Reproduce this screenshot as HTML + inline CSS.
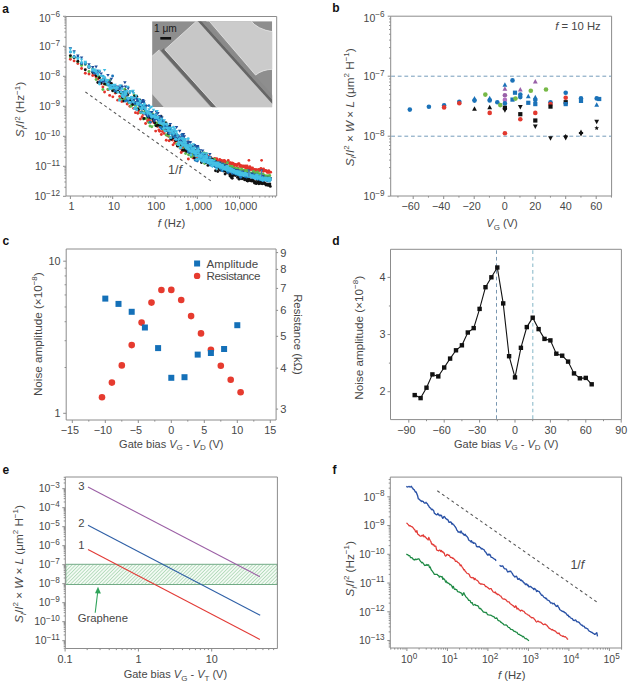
<!DOCTYPE html>
<html><head><meta charset="utf-8"><style>
html,body{margin:0;padding:0;background:#fff;overflow:hidden;}
svg{display:block;font-family:"Liberation Sans",sans-serif;}
</style></head><body>
<svg width="631" height="685" viewBox="0 0 631 685">
<rect width="631" height="685" fill="#fff"/>
<path d="M66,16.5 L66,196 L276.7,196" fill="none" stroke="#8c8c8c" stroke-width="1"/>
<line x1="66" y1="16.5" x2="276.7" y2="16.5" stroke="#8c8c8c" stroke-width="1" />
<line x1="276.7" y1="16.5" x2="276.7" y2="196" stroke="#8c8c8c" stroke-width="1" />
<line x1="66" y1="196.3" x2="63" y2="196.3" stroke="#8c8c8c" stroke-width="1" />
<line x1="66" y1="187.27" x2="64.4" y2="187.27" stroke="#8c8c8c" stroke-width="1" />
<line x1="66" y1="181.99" x2="64.4" y2="181.99" stroke="#8c8c8c" stroke-width="1" />
<line x1="66" y1="178.24" x2="64.4" y2="178.24" stroke="#8c8c8c" stroke-width="1" />
<line x1="66" y1="175.33" x2="64.4" y2="175.33" stroke="#8c8c8c" stroke-width="1" />
<line x1="66" y1="172.96" x2="64.4" y2="172.96" stroke="#8c8c8c" stroke-width="1" />
<line x1="66" y1="170.95" x2="64.4" y2="170.95" stroke="#8c8c8c" stroke-width="1" />
<line x1="66" y1="169.21" x2="64.4" y2="169.21" stroke="#8c8c8c" stroke-width="1" />
<line x1="66" y1="167.67" x2="64.4" y2="167.67" stroke="#8c8c8c" stroke-width="1" />
<line x1="66" y1="166.3" x2="63" y2="166.3" stroke="#8c8c8c" stroke-width="1" />
<line x1="66" y1="157.27" x2="64.4" y2="157.27" stroke="#8c8c8c" stroke-width="1" />
<line x1="66" y1="151.99" x2="64.4" y2="151.99" stroke="#8c8c8c" stroke-width="1" />
<line x1="66" y1="148.24" x2="64.4" y2="148.24" stroke="#8c8c8c" stroke-width="1" />
<line x1="66" y1="145.33" x2="64.4" y2="145.33" stroke="#8c8c8c" stroke-width="1" />
<line x1="66" y1="142.96" x2="64.4" y2="142.96" stroke="#8c8c8c" stroke-width="1" />
<line x1="66" y1="140.95" x2="64.4" y2="140.95" stroke="#8c8c8c" stroke-width="1" />
<line x1="66" y1="139.21" x2="64.4" y2="139.21" stroke="#8c8c8c" stroke-width="1" />
<line x1="66" y1="137.67" x2="64.4" y2="137.67" stroke="#8c8c8c" stroke-width="1" />
<line x1="66" y1="136.3" x2="63" y2="136.3" stroke="#8c8c8c" stroke-width="1" />
<line x1="66" y1="127.27" x2="64.4" y2="127.27" stroke="#8c8c8c" stroke-width="1" />
<line x1="66" y1="121.99" x2="64.4" y2="121.99" stroke="#8c8c8c" stroke-width="1" />
<line x1="66" y1="118.24" x2="64.4" y2="118.24" stroke="#8c8c8c" stroke-width="1" />
<line x1="66" y1="115.33" x2="64.4" y2="115.33" stroke="#8c8c8c" stroke-width="1" />
<line x1="66" y1="112.96" x2="64.4" y2="112.96" stroke="#8c8c8c" stroke-width="1" />
<line x1="66" y1="110.95" x2="64.4" y2="110.95" stroke="#8c8c8c" stroke-width="1" />
<line x1="66" y1="109.21" x2="64.4" y2="109.21" stroke="#8c8c8c" stroke-width="1" />
<line x1="66" y1="107.67" x2="64.4" y2="107.67" stroke="#8c8c8c" stroke-width="1" />
<line x1="66" y1="106.3" x2="63" y2="106.3" stroke="#8c8c8c" stroke-width="1" />
<line x1="66" y1="97.27" x2="64.4" y2="97.27" stroke="#8c8c8c" stroke-width="1" />
<line x1="66" y1="91.99" x2="64.4" y2="91.99" stroke="#8c8c8c" stroke-width="1" />
<line x1="66" y1="88.24" x2="64.4" y2="88.24" stroke="#8c8c8c" stroke-width="1" />
<line x1="66" y1="85.33" x2="64.4" y2="85.33" stroke="#8c8c8c" stroke-width="1" />
<line x1="66" y1="82.96" x2="64.4" y2="82.96" stroke="#8c8c8c" stroke-width="1" />
<line x1="66" y1="80.95" x2="64.4" y2="80.95" stroke="#8c8c8c" stroke-width="1" />
<line x1="66" y1="79.21" x2="64.4" y2="79.21" stroke="#8c8c8c" stroke-width="1" />
<line x1="66" y1="77.67" x2="64.4" y2="77.67" stroke="#8c8c8c" stroke-width="1" />
<line x1="66" y1="76.3" x2="63" y2="76.3" stroke="#8c8c8c" stroke-width="1" />
<line x1="66" y1="67.27" x2="64.4" y2="67.27" stroke="#8c8c8c" stroke-width="1" />
<line x1="66" y1="61.99" x2="64.4" y2="61.99" stroke="#8c8c8c" stroke-width="1" />
<line x1="66" y1="58.24" x2="64.4" y2="58.24" stroke="#8c8c8c" stroke-width="1" />
<line x1="66" y1="55.33" x2="64.4" y2="55.33" stroke="#8c8c8c" stroke-width="1" />
<line x1="66" y1="52.96" x2="64.4" y2="52.96" stroke="#8c8c8c" stroke-width="1" />
<line x1="66" y1="50.95" x2="64.4" y2="50.95" stroke="#8c8c8c" stroke-width="1" />
<line x1="66" y1="49.21" x2="64.4" y2="49.21" stroke="#8c8c8c" stroke-width="1" />
<line x1="66" y1="47.67" x2="64.4" y2="47.67" stroke="#8c8c8c" stroke-width="1" />
<line x1="66" y1="46.3" x2="63" y2="46.3" stroke="#8c8c8c" stroke-width="1" />
<line x1="66" y1="37.27" x2="64.4" y2="37.27" stroke="#8c8c8c" stroke-width="1" />
<line x1="66" y1="31.99" x2="64.4" y2="31.99" stroke="#8c8c8c" stroke-width="1" />
<line x1="66" y1="28.24" x2="64.4" y2="28.24" stroke="#8c8c8c" stroke-width="1" />
<line x1="66" y1="25.33" x2="64.4" y2="25.33" stroke="#8c8c8c" stroke-width="1" />
<line x1="66" y1="22.96" x2="64.4" y2="22.96" stroke="#8c8c8c" stroke-width="1" />
<line x1="66" y1="20.95" x2="64.4" y2="20.95" stroke="#8c8c8c" stroke-width="1" />
<line x1="66" y1="19.21" x2="64.4" y2="19.21" stroke="#8c8c8c" stroke-width="1" />
<line x1="66" y1="17.67" x2="64.4" y2="17.67" stroke="#8c8c8c" stroke-width="1" />
<line x1="66" y1="16.3" x2="63" y2="16.3" stroke="#8c8c8c" stroke-width="1" />
<text x="60" y="200.1" font-size="10.5" text-anchor="end" fill="#474747">10<tspan font-size="8.2" dy="-4.5">&#8722;12</tspan></text>
<text x="60" y="170.1" font-size="10.5" text-anchor="end" fill="#474747">10<tspan font-size="8.2" dy="-4.5">&#8722;11</tspan></text>
<text x="60" y="140.1" font-size="10.5" text-anchor="end" fill="#474747">10<tspan font-size="8.2" dy="-4.5">&#8722;10</tspan></text>
<text x="60" y="110.1" font-size="10.5" text-anchor="end" fill="#474747">10<tspan font-size="8.2" dy="-4.5">&#8722;9</tspan></text>
<text x="60" y="80.1" font-size="10.5" text-anchor="end" fill="#474747">10<tspan font-size="8.2" dy="-4.5">&#8722;8</tspan></text>
<text x="60" y="50.1" font-size="10.5" text-anchor="end" fill="#474747">10<tspan font-size="8.2" dy="-4.5">&#8722;7</tspan></text>
<text x="60" y="21.9" font-size="10.5" text-anchor="end" fill="#474747">10<tspan font-size="8.2" dy="-4.5">&#8722;6</tspan></text>
<line x1="70.4" y1="196" x2="70.4" y2="199" stroke="#8c8c8c" stroke-width="1" />
<line x1="83.13" y1="196" x2="83.13" y2="197.6" stroke="#8c8c8c" stroke-width="1" />
<line x1="90.58" y1="196" x2="90.58" y2="197.6" stroke="#8c8c8c" stroke-width="1" />
<line x1="95.87" y1="196" x2="95.87" y2="197.6" stroke="#8c8c8c" stroke-width="1" />
<line x1="99.97" y1="196" x2="99.97" y2="197.6" stroke="#8c8c8c" stroke-width="1" />
<line x1="103.32" y1="196" x2="103.32" y2="197.6" stroke="#8c8c8c" stroke-width="1" />
<line x1="106.15" y1="196" x2="106.15" y2="197.6" stroke="#8c8c8c" stroke-width="1" />
<line x1="108.6" y1="196" x2="108.6" y2="197.6" stroke="#8c8c8c" stroke-width="1" />
<line x1="110.76" y1="196" x2="110.76" y2="197.6" stroke="#8c8c8c" stroke-width="1" />
<line x1="112.7" y1="196" x2="112.7" y2="199" stroke="#8c8c8c" stroke-width="1" />
<line x1="125.43" y1="196" x2="125.43" y2="197.6" stroke="#8c8c8c" stroke-width="1" />
<line x1="132.88" y1="196" x2="132.88" y2="197.6" stroke="#8c8c8c" stroke-width="1" />
<line x1="138.17" y1="196" x2="138.17" y2="197.6" stroke="#8c8c8c" stroke-width="1" />
<line x1="142.27" y1="196" x2="142.27" y2="197.6" stroke="#8c8c8c" stroke-width="1" />
<line x1="145.62" y1="196" x2="145.62" y2="197.6" stroke="#8c8c8c" stroke-width="1" />
<line x1="148.45" y1="196" x2="148.45" y2="197.6" stroke="#8c8c8c" stroke-width="1" />
<line x1="150.9" y1="196" x2="150.9" y2="197.6" stroke="#8c8c8c" stroke-width="1" />
<line x1="153.06" y1="196" x2="153.06" y2="197.6" stroke="#8c8c8c" stroke-width="1" />
<line x1="155" y1="196" x2="155" y2="199" stroke="#8c8c8c" stroke-width="1" />
<line x1="167.73" y1="196" x2="167.73" y2="197.6" stroke="#8c8c8c" stroke-width="1" />
<line x1="175.18" y1="196" x2="175.18" y2="197.6" stroke="#8c8c8c" stroke-width="1" />
<line x1="180.47" y1="196" x2="180.47" y2="197.6" stroke="#8c8c8c" stroke-width="1" />
<line x1="184.57" y1="196" x2="184.57" y2="197.6" stroke="#8c8c8c" stroke-width="1" />
<line x1="187.92" y1="196" x2="187.92" y2="197.6" stroke="#8c8c8c" stroke-width="1" />
<line x1="190.75" y1="196" x2="190.75" y2="197.6" stroke="#8c8c8c" stroke-width="1" />
<line x1="193.2" y1="196" x2="193.2" y2="197.6" stroke="#8c8c8c" stroke-width="1" />
<line x1="195.36" y1="196" x2="195.36" y2="197.6" stroke="#8c8c8c" stroke-width="1" />
<line x1="197.3" y1="196" x2="197.3" y2="199" stroke="#8c8c8c" stroke-width="1" />
<line x1="210.03" y1="196" x2="210.03" y2="197.6" stroke="#8c8c8c" stroke-width="1" />
<line x1="217.48" y1="196" x2="217.48" y2="197.6" stroke="#8c8c8c" stroke-width="1" />
<line x1="222.77" y1="196" x2="222.77" y2="197.6" stroke="#8c8c8c" stroke-width="1" />
<line x1="226.87" y1="196" x2="226.87" y2="197.6" stroke="#8c8c8c" stroke-width="1" />
<line x1="230.22" y1="196" x2="230.22" y2="197.6" stroke="#8c8c8c" stroke-width="1" />
<line x1="233.05" y1="196" x2="233.05" y2="197.6" stroke="#8c8c8c" stroke-width="1" />
<line x1="235.5" y1="196" x2="235.5" y2="197.6" stroke="#8c8c8c" stroke-width="1" />
<line x1="237.66" y1="196" x2="237.66" y2="197.6" stroke="#8c8c8c" stroke-width="1" />
<line x1="239.6" y1="196" x2="239.6" y2="199" stroke="#8c8c8c" stroke-width="1" />
<line x1="252.33" y1="196" x2="252.33" y2="197.6" stroke="#8c8c8c" stroke-width="1" />
<line x1="259.78" y1="196" x2="259.78" y2="197.6" stroke="#8c8c8c" stroke-width="1" />
<line x1="265.07" y1="196" x2="265.07" y2="197.6" stroke="#8c8c8c" stroke-width="1" />
<line x1="269.17" y1="196" x2="269.17" y2="197.6" stroke="#8c8c8c" stroke-width="1" />
<line x1="272.52" y1="196" x2="272.52" y2="197.6" stroke="#8c8c8c" stroke-width="1" />
<line x1="275.35" y1="196" x2="275.35" y2="197.6" stroke="#8c8c8c" stroke-width="1" />
<text x="71.6" y="210.3" font-size="10.8" text-anchor="middle" fill="#474747" >1</text>
<text x="113.9" y="210.3" font-size="10.8" text-anchor="middle" fill="#474747" >10</text>
<text x="156.2" y="210.3" font-size="10.8" text-anchor="middle" fill="#474747" >100</text>
<text x="198.5" y="210.3" font-size="10.8" text-anchor="middle" fill="#474747" >1,000</text>
<text x="240.8" y="210.3" font-size="10.8" text-anchor="middle" fill="#474747" >10,000</text>
<text x="171.5" y="227.2" font-size="11.3" text-anchor="middle" fill="#474747" ><tspan font-style="italic">f</tspan> (Hz)</text>
<text transform="translate(24.3,109.6) rotate(-90)" font-size="11.7" text-anchor="middle" fill="#474747"><tspan font-style="italic">S</tspan><tspan font-size="8" font-style="italic" dy="2.8">I</tspan><tspan dy="-2.8">/</tspan><tspan font-style="italic">I</tspan><tspan font-size="8" dy="-4.5">2</tspan><tspan dy="4.5"> (Hz</tspan><tspan font-size="8" dy="-4.5">&#8722;1</tspan><tspan dy="4.5">)</tspan></text>
<text x="2.2" y="12.8" font-size="12" font-weight="bold" fill="#111">a</text>
<defs><clipPath id="inset"><rect x="152.1" y="21.2" width="120.1" height="86"/></clipPath><pattern id="hatch" width="2.5" height="2.5" patternUnits="userSpaceOnUse" patternTransform="rotate(45)"><rect width="2.5" height="2.5" fill="#f3faf4"/><line x1="0" y1="0" x2="0" y2="2.5" stroke="#84c592" stroke-width="1"/></pattern></defs>
<g clip-path="url(#inset)">
<rect x="152.1" y="21.2" width="120.1" height="86" fill="#8e8e8e"/>
<polygon points="160.94,50.84 163.69,48.36 267.05,163.16 264.3,165.63" fill="#686868"/>
<polygon points="178.95,0.32 181.03,-1.56 301.45,132.18 299.37,134.06" fill="#666666"/>
<polygon points="181.03,-1.56 183.56,-3.83 303.98,129.91 301.45,132.18" fill="#8a8a8a"/>
<polygon points="133.22,73.24 159.22,49.83 263.86,166.03 237.85,189.45" fill="#cbcbcb"/>
<polygon points="164.83,49.63 197.15,20.53 299.37,134.06 267.05,163.16" fill="#c7c7c7"/>
<path d="M208.3,20 L250.3,20 Q257,29.5 273,31.8 L273,69.2 Q262,69.6 255.6,75.1 Z" fill="#cbcbcb"/>
<polyline points="267.05,163.16 164.83,49.63 197.15,20.53" fill="none" stroke="#e6e6e6" stroke-width="0.8"/>
<polyline points="133.22,73.24 159.22,49.83" fill="none" stroke="#e2e2e2" stroke-width="0.8"/>
<path d="M208.3,20 L255.6,75.1 Q262,69.6 273,69.2" fill="none" stroke="#e8e8e8" stroke-width="0.8"/>
<path d="M250.3,20 Q257,29.5 273,31.8" fill="none" stroke="#e8e8e8" stroke-width="0.8"/>
</g>
<text x="154.0" y="32.2" font-size="10.2" fill="#1a1a1a">1 &#956;m</text>
<rect x="160.3" y="37" width="10.8" height="2.6" fill="#111"/>
<g fill="#e3342b"><circle cx="70.4" cy="59.29" r="1.45"/><circle cx="74.12" cy="60.88" r="1.45"/><circle cx="77.84" cy="63.49" r="1.45"/><circle cx="81.57" cy="68.46" r="1.45"/><circle cx="85.29" cy="73.22" r="1.45"/><circle cx="89.01" cy="74.01" r="1.45"/><circle cx="92.73" cy="75.43" r="1.45"/><circle cx="94.43" cy="74.89" r="1.45"/><circle cx="96.12" cy="77.09" r="1.45"/><circle cx="97.81" cy="78.95" r="1.45"/><circle cx="99.5" cy="82.02" r="1.45"/><circle cx="101.19" cy="83.87" r="1.45"/><circle cx="102.89" cy="86.9" r="1.45"/><circle cx="104.58" cy="92.01" r="1.45"/><circle cx="106.27" cy="84.64" r="1.45"/><circle cx="107.96" cy="89.64" r="1.45"/><circle cx="109.65" cy="95.42" r="1.45"/><circle cx="111.35" cy="88.09" r="1.45"/><circle cx="112.82" cy="96.86" r="1.45"/><circle cx="115.23" cy="93.03" r="1.45"/><circle cx="116.15" cy="91.4" r="1.45"/><circle cx="117.68" cy="100.13" r="1.45"/><circle cx="119.69" cy="96.48" r="1.45"/><circle cx="121.85" cy="101.57" r="1.45"/><circle cx="122.48" cy="96.49" r="1.45"/><circle cx="123.43" cy="99.61" r="1.45"/><circle cx="124.31" cy="96.01" r="1.45"/><circle cx="125.39" cy="98.98" r="1.45"/><circle cx="126.32" cy="96.22" r="1.45"/><circle cx="127.15" cy="103.95" r="1.45"/><circle cx="128.55" cy="102.78" r="1.45"/><circle cx="129.85" cy="106.23" r="1.45"/><circle cx="130.56" cy="101.55" r="1.45"/><circle cx="131.42" cy="102.05" r="1.45"/><circle cx="133.05" cy="100.32" r="1.45"/><circle cx="133.58" cy="108.33" r="1.45"/><circle cx="135.19" cy="104.94" r="1.45"/><circle cx="135.47" cy="112.63" r="1.45"/><circle cx="136.3" cy="109.07" r="1.45"/><circle cx="137.82" cy="113.37" r="1.45"/><circle cx="138.71" cy="110.93" r="1.45"/><circle cx="139.76" cy="107.28" r="1.45"/><circle cx="140.44" cy="118.95" r="1.45"/><circle cx="142.12" cy="116.71" r="1.45"/><circle cx="143.26" cy="114.39" r="1.45"/><circle cx="144.28" cy="112.97" r="1.45"/><circle cx="144.45" cy="112.56" r="1.45"/><circle cx="145.6" cy="123.53" r="1.45"/><circle cx="146.97" cy="118.4" r="1.45"/><circle cx="147.57" cy="121.02" r="1.45"/><circle cx="148.97" cy="119.53" r="1.45"/><circle cx="150.04" cy="121.38" r="1.45"/><circle cx="150.46" cy="122.37" r="1.45"/><circle cx="151.9" cy="114.16" r="1.45"/><circle cx="153.04" cy="120.55" r="1.45"/><circle cx="153.85" cy="122.56" r="1.45"/><circle cx="155.19" cy="116.68" r="1.45"/><circle cx="155.66" cy="131.11" r="1.45"/><circle cx="157.23" cy="125.16" r="1.45"/><circle cx="157.57" cy="126.47" r="1.45"/><circle cx="158.88" cy="130.03" r="1.45"/><circle cx="159.65" cy="131.23" r="1.45"/><circle cx="161.33" cy="134.46" r="1.45"/><circle cx="162.4" cy="131.55" r="1.45"/><circle cx="163.52" cy="128.1" r="1.45"/><circle cx="164.05" cy="133.42" r="1.45"/><circle cx="165.28" cy="130.98" r="1.45"/><circle cx="166.25" cy="140.3" r="1.45"/><circle cx="167.68" cy="135.65" r="1.45"/><circle cx="168.43" cy="136.37" r="1.45"/><circle cx="169.15" cy="140.7" r="1.45"/><circle cx="169.81" cy="133.7" r="1.45"/><circle cx="171.22" cy="138.25" r="1.45"/><circle cx="172.46" cy="140.03" r="1.45"/><circle cx="173.03" cy="144.85" r="1.45"/><circle cx="174.47" cy="143.03" r="1.45"/><circle cx="175.46" cy="141.25" r="1.45"/><circle cx="176.71" cy="140.74" r="1.45"/><circle cx="177.27" cy="145.92" r="1.45"/><circle cx="178.76" cy="139.98" r="1.45"/><circle cx="179.18" cy="142.82" r="1.45"/><circle cx="180.38" cy="148.3" r="1.45"/><circle cx="181.42" cy="143.16" r="1.45"/><circle cx="181.23" cy="152.48" r="1.45"/><circle cx="182.07" cy="149.96" r="1.45"/><circle cx="182.74" cy="147.1" r="1.45"/><circle cx="183.29" cy="150.84" r="1.45"/><circle cx="183.46" cy="143.13" r="1.45"/><circle cx="184.6" cy="148.6" r="1.45"/><circle cx="185.41" cy="150.36" r="1.45"/><circle cx="185.23" cy="148.43" r="1.45"/><circle cx="186.04" cy="150.36" r="1.45"/><circle cx="186.84" cy="150.38" r="1.45"/><circle cx="187.64" cy="150.5" r="1.45"/><circle cx="187.78" cy="148.74" r="1.45"/><circle cx="188.35" cy="158.95" r="1.45"/><circle cx="188.94" cy="148.54" r="1.45"/><circle cx="189.7" cy="151.97" r="1.45"/><circle cx="190.7" cy="153.61" r="1.45"/><circle cx="191.33" cy="156.05" r="1.45"/><circle cx="191.85" cy="151.85" r="1.45"/><circle cx="192.18" cy="153.8" r="1.45"/><circle cx="192.89" cy="157.78" r="1.45"/><circle cx="193.71" cy="157.98" r="1.45"/><circle cx="193.71" cy="150.83" r="1.45"/><circle cx="194.91" cy="155.06" r="1.45"/><circle cx="195.58" cy="156.97" r="1.45"/><circle cx="196.25" cy="157.79" r="1.45"/><circle cx="196.78" cy="159.27" r="1.45"/><circle cx="196.81" cy="155.93" r="1.45"/><circle cx="197.6" cy="152.59" r="1.45"/><circle cx="198.41" cy="153.87" r="1.45"/><circle cx="199.05" cy="156.08" r="1.45"/><circle cx="198.89" cy="155.63" r="1.45"/><circle cx="199.76" cy="155.4" r="1.45"/><circle cx="200.8" cy="157.53" r="1.45"/><circle cx="201.12" cy="155.41" r="1.45"/><circle cx="201.92" cy="155.43" r="1.45"/><circle cx="202.74" cy="154.74" r="1.45"/><circle cx="202.88" cy="159.9" r="1.45"/><circle cx="203.2" cy="156.16" r="1.45"/><circle cx="204.09" cy="157.59" r="1.45"/><circle cx="204.8" cy="158.39" r="1.45"/><circle cx="205.28" cy="154.24" r="1.45"/><circle cx="205.66" cy="156.34" r="1.45"/><circle cx="206.32" cy="160.36" r="1.45"/><circle cx="206.74" cy="155.73" r="1.45"/><circle cx="207.97" cy="162.15" r="1.45"/><circle cx="208.29" cy="156.25" r="1.45"/><circle cx="208.51" cy="159.36" r="1.45"/><circle cx="209.5" cy="161.35" r="1.45"/><circle cx="209.52" cy="159.79" r="1.45"/><circle cx="210.48" cy="157.23" r="1.45"/><circle cx="211.48" cy="160.12" r="1.45"/><circle cx="211.96" cy="161.86" r="1.45"/><circle cx="211.92" cy="160.89" r="1.45"/><circle cx="213.41" cy="161.95" r="1.45"/><circle cx="213.97" cy="160.7" r="1.45"/><circle cx="213.76" cy="160.59" r="1.45"/><circle cx="214.66" cy="158.56" r="1.45"/><circle cx="215.3" cy="159.12" r="1.45"/><circle cx="215.73" cy="163.82" r="1.45"/><circle cx="216.93" cy="159.94" r="1.45"/><circle cx="216.73" cy="158.82" r="1.45"/><circle cx="217.38" cy="160.88" r="1.45"/><circle cx="218.01" cy="161.36" r="1.45"/><circle cx="218.73" cy="161.64" r="1.45"/><circle cx="219.58" cy="162.43" r="1.45"/><circle cx="219.68" cy="159.55" r="1.45"/><circle cx="220.66" cy="160.1" r="1.45"/><circle cx="221.27" cy="161.59" r="1.45"/><circle cx="221.77" cy="160.82" r="1.45"/><circle cx="222.46" cy="162.78" r="1.45"/><circle cx="222.68" cy="160.99" r="1.45"/><circle cx="223.75" cy="161.52" r="1.45"/><circle cx="224.23" cy="160.45" r="1.45"/><circle cx="225.15" cy="161.23" r="1.45"/><circle cx="225.12" cy="163.64" r="1.45"/><circle cx="226.38" cy="162.56" r="1.45"/><circle cx="226.39" cy="164.63" r="1.45"/><circle cx="226.88" cy="163.67" r="1.45"/><circle cx="228.25" cy="160.47" r="1.45"/><circle cx="228.09" cy="162.45" r="1.45"/><circle cx="229.17" cy="163.39" r="1.45"/><circle cx="229.86" cy="163.18" r="1.45"/><circle cx="230.05" cy="162.81" r="1.45"/><circle cx="230.62" cy="163.28" r="1.45"/><circle cx="231.49" cy="164.06" r="1.45"/><circle cx="232.08" cy="163.04" r="1.45"/><circle cx="232.9" cy="163.78" r="1.45"/><circle cx="233.09" cy="163.53" r="1.45"/><circle cx="233.94" cy="164.25" r="1.45"/><circle cx="233.96" cy="165.76" r="1.45"/><circle cx="234.43" cy="164.51" r="1.45"/><circle cx="235.51" cy="164.46" r="1.45"/><circle cx="236.06" cy="164.68" r="1.45"/><circle cx="236.32" cy="165.48" r="1.45"/><circle cx="236.94" cy="165.42" r="1.45"/><circle cx="238.25" cy="163.91" r="1.45"/><circle cx="238.01" cy="167.91" r="1.45"/><circle cx="238.97" cy="163.74" r="1.45"/><circle cx="239.86" cy="165.16" r="1.45"/><circle cx="240.21" cy="166.59" r="1.45"/><circle cx="240.71" cy="165.35" r="1.45"/><circle cx="241.58" cy="166.49" r="1.45"/><circle cx="242.31" cy="166.58" r="1.45"/><circle cx="242.8" cy="166.2" r="1.45"/><circle cx="243.06" cy="165.84" r="1.45"/><circle cx="243.76" cy="166.68" r="1.45"/><circle cx="243.85" cy="166.48" r="1.45"/><circle cx="245.13" cy="165.84" r="1.45"/><circle cx="245.88" cy="168.24" r="1.45"/><circle cx="246.21" cy="167.99" r="1.45"/><circle cx="246.71" cy="168.14" r="1.45"/><circle cx="247.06" cy="165.98" r="1.45"/><circle cx="248.3" cy="167.9" r="1.45"/><circle cx="248.8" cy="167.9" r="1.45"/><circle cx="248.98" cy="169.53" r="1.45"/><circle cx="249.86" cy="166.62" r="1.45"/><circle cx="250.53" cy="169.34" r="1.45"/><circle cx="251.07" cy="168.25" r="1.45"/><circle cx="251.01" cy="169.38" r="1.45"/><circle cx="251.55" cy="169.14" r="1.45"/><circle cx="252.48" cy="167.86" r="1.45"/><circle cx="252.95" cy="169.64" r="1.45"/><circle cx="254.26" cy="169.92" r="1.45"/><circle cx="254.56" cy="169.49" r="1.45"/><circle cx="255.07" cy="169.91" r="1.45"/><circle cx="256.09" cy="170.2" r="1.45"/><circle cx="256.32" cy="169.63" r="1.45"/><circle cx="257.25" cy="170.03" r="1.45"/><circle cx="256.89" cy="171.15" r="1.45"/><circle cx="257.71" cy="170.92" r="1.45"/><circle cx="258.45" cy="170.92" r="1.45"/><circle cx="259.02" cy="169.5" r="1.45"/><circle cx="259.33" cy="170" r="1.45"/><circle cx="260.38" cy="170.32" r="1.45"/><circle cx="260.93" cy="168.48" r="1.45"/><circle cx="262.01" cy="169.42" r="1.45"/><circle cx="262.24" cy="170.92" r="1.45"/><circle cx="262.79" cy="170.67" r="1.45"/><circle cx="263.55" cy="171.26" r="1.45"/><circle cx="263.54" cy="169.06" r="1.45"/><circle cx="264.44" cy="170.59" r="1.45"/><circle cx="265.18" cy="170.79" r="1.45"/><circle cx="265.22" cy="170.5" r="1.45"/><circle cx="266.28" cy="170.66" r="1.45"/><circle cx="266.94" cy="171.98" r="1.45"/><circle cx="267.59" cy="172.28" r="1.45"/><circle cx="268.09" cy="171.36" r="1.45"/><circle cx="268.41" cy="172.34" r="1.45"/><circle cx="268.72" cy="170.76" r="1.45"/><circle cx="269.46" cy="172.27" r="1.45"/><circle cx="270.65" cy="172.14" r="1.45"/></g>
<g fill="#5cb84c"><circle cx="70.4" cy="57.03" r="1.45"/><circle cx="74.12" cy="57.14" r="1.45"/><circle cx="77.84" cy="61.85" r="1.45"/><circle cx="81.57" cy="65.52" r="1.45"/><circle cx="85.29" cy="64.55" r="1.45"/><circle cx="89.01" cy="71.53" r="1.45"/><circle cx="92.73" cy="69.01" r="1.45"/><circle cx="94.43" cy="72.55" r="1.45"/><circle cx="96.12" cy="79.5" r="1.45"/><circle cx="97.81" cy="76.21" r="1.45"/><circle cx="99.5" cy="76.59" r="1.45"/><circle cx="101.19" cy="80.67" r="1.45"/><circle cx="102.89" cy="89.5" r="1.45"/><circle cx="104.58" cy="83.96" r="1.45"/><circle cx="106.27" cy="84.69" r="1.45"/><circle cx="107.96" cy="89.11" r="1.45"/><circle cx="109.65" cy="80.25" r="1.45"/><circle cx="111.35" cy="88.65" r="1.45"/><circle cx="113.16" cy="90.43" r="1.45"/><circle cx="114.69" cy="91.37" r="1.45"/><circle cx="116.45" cy="91.28" r="1.45"/><circle cx="117.74" cy="91.79" r="1.45"/><circle cx="119.76" cy="98.93" r="1.45"/><circle cx="121.26" cy="93.6" r="1.45"/><circle cx="122.79" cy="99.28" r="1.45"/><circle cx="123.56" cy="98.69" r="1.45"/><circle cx="124.78" cy="89.15" r="1.45"/><circle cx="125.3" cy="98.56" r="1.45"/><circle cx="126.86" cy="93.69" r="1.45"/><circle cx="127.71" cy="95.17" r="1.45"/><circle cx="128.79" cy="102.45" r="1.45"/><circle cx="129.68" cy="99.34" r="1.45"/><circle cx="130.89" cy="106.32" r="1.45"/><circle cx="131.34" cy="105.64" r="1.45"/><circle cx="133.08" cy="103.68" r="1.45"/><circle cx="134.06" cy="94.87" r="1.45"/><circle cx="134.47" cy="104.07" r="1.45"/><circle cx="135.64" cy="105.72" r="1.45"/><circle cx="136.77" cy="107.96" r="1.45"/><circle cx="137.31" cy="108.75" r="1.45"/><circle cx="138.81" cy="104" r="1.45"/><circle cx="139.9" cy="106.58" r="1.45"/><circle cx="140.5" cy="112.82" r="1.45"/><circle cx="141.65" cy="108.07" r="1.45"/><circle cx="142.39" cy="111.91" r="1.45"/><circle cx="143.45" cy="119.1" r="1.45"/><circle cx="145.12" cy="111.57" r="1.45"/><circle cx="145.58" cy="118.63" r="1.45"/><circle cx="147.19" cy="117.33" r="1.45"/><circle cx="147.76" cy="114.55" r="1.45"/><circle cx="148.73" cy="122.49" r="1.45"/><circle cx="149.97" cy="125.94" r="1.45"/><circle cx="150.87" cy="118.4" r="1.45"/><circle cx="151.82" cy="126.8" r="1.45"/><circle cx="152.55" cy="114.07" r="1.45"/><circle cx="153.57" cy="116.63" r="1.45"/><circle cx="155.19" cy="125.13" r="1.45"/><circle cx="155.81" cy="123.85" r="1.45"/><circle cx="156.74" cy="122.88" r="1.45"/><circle cx="158.21" cy="125.27" r="1.45"/><circle cx="159.29" cy="122.17" r="1.45"/><circle cx="160.27" cy="124.1" r="1.45"/><circle cx="160.95" cy="126.75" r="1.45"/><circle cx="162.33" cy="125.36" r="1.45"/><circle cx="163.33" cy="129.31" r="1.45"/><circle cx="164.21" cy="127.8" r="1.45"/><circle cx="165.57" cy="122.88" r="1.45"/><circle cx="166.11" cy="134.94" r="1.45"/><circle cx="167" cy="130.9" r="1.45"/><circle cx="168.1" cy="135.56" r="1.45"/><circle cx="168.96" cy="126.99" r="1.45"/><circle cx="170.09" cy="137.55" r="1.45"/><circle cx="171.14" cy="137.73" r="1.45"/><circle cx="172.15" cy="134.03" r="1.45"/><circle cx="173.57" cy="135.89" r="1.45"/><circle cx="174.33" cy="134.14" r="1.45"/><circle cx="174.98" cy="136.93" r="1.45"/><circle cx="176.58" cy="143.88" r="1.45"/><circle cx="176.86" cy="138.98" r="1.45"/><circle cx="178.37" cy="143.77" r="1.45"/><circle cx="179.83" cy="146.96" r="1.45"/><circle cx="180.53" cy="144.84" r="1.45"/><circle cx="181.02" cy="143.76" r="1.45"/><circle cx="181.85" cy="145.8" r="1.45"/><circle cx="182.39" cy="144" r="1.45"/><circle cx="183.15" cy="145" r="1.45"/><circle cx="182.98" cy="142.2" r="1.45"/><circle cx="184.18" cy="144.35" r="1.45"/><circle cx="184.25" cy="148.61" r="1.45"/><circle cx="185.38" cy="149.61" r="1.45"/><circle cx="185.6" cy="153.53" r="1.45"/><circle cx="186.14" cy="149.39" r="1.45"/><circle cx="186.89" cy="144.58" r="1.45"/><circle cx="187.52" cy="150.39" r="1.45"/><circle cx="188.49" cy="150.66" r="1.45"/><circle cx="188.58" cy="154.81" r="1.45"/><circle cx="189.62" cy="148.32" r="1.45"/><circle cx="190.16" cy="154.65" r="1.45"/><circle cx="190.91" cy="147.86" r="1.45"/><circle cx="191.18" cy="156.66" r="1.45"/><circle cx="191.93" cy="156.16" r="1.45"/><circle cx="192.15" cy="152.59" r="1.45"/><circle cx="193.06" cy="153.62" r="1.45"/><circle cx="193.9" cy="151.74" r="1.45"/><circle cx="193.7" cy="154.01" r="1.45"/><circle cx="194.52" cy="151.91" r="1.45"/><circle cx="194.74" cy="155.3" r="1.45"/><circle cx="195.59" cy="146.74" r="1.45"/><circle cx="196.65" cy="151.07" r="1.45"/><circle cx="196.64" cy="151.74" r="1.45"/><circle cx="197.64" cy="151.88" r="1.45"/><circle cx="198.56" cy="153.77" r="1.45"/><circle cx="198.42" cy="153.96" r="1.45"/><circle cx="199.05" cy="155.18" r="1.45"/><circle cx="200.02" cy="155.38" r="1.45"/><circle cx="200.24" cy="152.13" r="1.45"/><circle cx="200.78" cy="155.54" r="1.45"/><circle cx="201.96" cy="154.83" r="1.45"/><circle cx="202.61" cy="158.04" r="1.45"/><circle cx="202.86" cy="154.47" r="1.45"/><circle cx="203.89" cy="157.8" r="1.45"/><circle cx="203.91" cy="153.04" r="1.45"/><circle cx="204.64" cy="163.43" r="1.45"/><circle cx="204.97" cy="159.98" r="1.45"/><circle cx="206.15" cy="153.63" r="1.45"/><circle cx="206.32" cy="157.34" r="1.45"/><circle cx="206.8" cy="161.72" r="1.45"/><circle cx="208.11" cy="159.94" r="1.45"/><circle cx="207.72" cy="160.63" r="1.45"/><circle cx="208.78" cy="161.33" r="1.45"/><circle cx="209.61" cy="162.82" r="1.45"/><circle cx="210.1" cy="158.18" r="1.45"/><circle cx="210.4" cy="160.35" r="1.45"/><circle cx="210.93" cy="160.34" r="1.45"/><circle cx="211.9" cy="160.04" r="1.45"/><circle cx="212.85" cy="163.42" r="1.45"/><circle cx="212.6" cy="162.23" r="1.45"/><circle cx="213.81" cy="160.04" r="1.45"/><circle cx="214.48" cy="159.18" r="1.45"/><circle cx="215.05" cy="162.51" r="1.45"/><circle cx="215.54" cy="161.58" r="1.45"/><circle cx="215.51" cy="162.26" r="1.45"/><circle cx="216.96" cy="164.85" r="1.45"/><circle cx="217.18" cy="163.04" r="1.45"/><circle cx="217.98" cy="162.62" r="1.45"/><circle cx="218.2" cy="164.61" r="1.45"/><circle cx="219.2" cy="163.24" r="1.45"/><circle cx="219.17" cy="164.3" r="1.45"/><circle cx="219.71" cy="165.83" r="1.45"/><circle cx="220.98" cy="164.81" r="1.45"/><circle cx="220.82" cy="164.98" r="1.45"/><circle cx="221.64" cy="163.66" r="1.45"/><circle cx="222.29" cy="166.95" r="1.45"/><circle cx="223.21" cy="164.67" r="1.45"/><circle cx="223.57" cy="164.26" r="1.45"/><circle cx="224.67" cy="164.65" r="1.45"/><circle cx="224.31" cy="164.73" r="1.45"/><circle cx="225.26" cy="167.26" r="1.45"/><circle cx="226.04" cy="166.12" r="1.45"/><circle cx="226.53" cy="166.89" r="1.45"/><circle cx="227.46" cy="162.77" r="1.45"/><circle cx="227.46" cy="166.19" r="1.45"/><circle cx="228.22" cy="167.26" r="1.45"/><circle cx="228.98" cy="167.35" r="1.45"/><circle cx="229.42" cy="167.22" r="1.45"/><circle cx="230.29" cy="166.21" r="1.45"/><circle cx="230.95" cy="167.32" r="1.45"/><circle cx="231.14" cy="166.8" r="1.45"/><circle cx="232.13" cy="166.45" r="1.45"/><circle cx="232.33" cy="168.26" r="1.45"/><circle cx="232.73" cy="167.83" r="1.45"/><circle cx="233.27" cy="168.58" r="1.45"/><circle cx="233.95" cy="169.05" r="1.45"/><circle cx="234.76" cy="169.91" r="1.45"/><circle cx="235.04" cy="168.14" r="1.45"/><circle cx="235.77" cy="170.03" r="1.45"/><circle cx="236.55" cy="168.92" r="1.45"/><circle cx="236.8" cy="168.99" r="1.45"/><circle cx="237.83" cy="168.74" r="1.45"/><circle cx="238.56" cy="170.24" r="1.45"/><circle cx="238.89" cy="169.81" r="1.45"/><circle cx="239.43" cy="171.86" r="1.45"/><circle cx="240.09" cy="170.46" r="1.45"/><circle cx="240.98" cy="170.36" r="1.45"/><circle cx="241.54" cy="168.99" r="1.45"/><circle cx="242.08" cy="170.87" r="1.45"/><circle cx="242.4" cy="170.01" r="1.45"/><circle cx="243.3" cy="170.85" r="1.45"/><circle cx="243.75" cy="170.37" r="1.45"/><circle cx="244.63" cy="170.64" r="1.45"/><circle cx="244.59" cy="170.75" r="1.45"/><circle cx="245.79" cy="172.53" r="1.45"/><circle cx="245.97" cy="170.62" r="1.45"/><circle cx="246.71" cy="172.33" r="1.45"/><circle cx="247.79" cy="170.91" r="1.45"/><circle cx="247.91" cy="170.82" r="1.45"/><circle cx="248.18" cy="172.42" r="1.45"/><circle cx="249.52" cy="173.84" r="1.45"/><circle cx="249.25" cy="172.71" r="1.45"/><circle cx="250" cy="172.85" r="1.45"/><circle cx="250.68" cy="173.77" r="1.45"/><circle cx="251.87" cy="173.31" r="1.45"/><circle cx="251.66" cy="173.43" r="1.45"/><circle cx="253.1" cy="172.14" r="1.45"/><circle cx="253.26" cy="171.75" r="1.45"/><circle cx="253.87" cy="171.69" r="1.45"/><circle cx="254.81" cy="173.94" r="1.45"/><circle cx="255.49" cy="173.66" r="1.45"/><circle cx="255.21" cy="173.02" r="1.45"/><circle cx="256.51" cy="174.76" r="1.45"/><circle cx="256.51" cy="174.23" r="1.45"/><circle cx="257.44" cy="172.03" r="1.45"/><circle cx="258.01" cy="173.74" r="1.45"/><circle cx="258.13" cy="174.65" r="1.45"/><circle cx="259.63" cy="173.71" r="1.45"/><circle cx="260.17" cy="174.28" r="1.45"/><circle cx="260.5" cy="174.93" r="1.45"/><circle cx="261.16" cy="175.28" r="1.45"/><circle cx="261.82" cy="175.65" r="1.45"/><circle cx="261.62" cy="174.07" r="1.45"/><circle cx="262.34" cy="174.69" r="1.45"/><circle cx="263.17" cy="174.17" r="1.45"/><circle cx="263.9" cy="175.75" r="1.45"/><circle cx="264.24" cy="175.61" r="1.45"/><circle cx="265.21" cy="176.23" r="1.45"/><circle cx="265.19" cy="175.96" r="1.45"/><circle cx="266.71" cy="175.98" r="1.45"/><circle cx="266.94" cy="176.31" r="1.45"/><circle cx="267.56" cy="176.9" r="1.45"/><circle cx="268.21" cy="175.94" r="1.45"/><circle cx="268.6" cy="176.16" r="1.45"/><circle cx="269.7" cy="177.86" r="1.45"/><circle cx="269.71" cy="175.55" r="1.45"/><circle cx="270.33" cy="178.11" r="1.45"/></g>
<g fill="#111111"><circle cx="70.4" cy="55.59" r="1.45"/><circle cx="74.12" cy="57.69" r="1.45"/><circle cx="77.84" cy="61.32" r="1.45"/><circle cx="81.57" cy="63.56" r="1.45"/><circle cx="85.29" cy="69.75" r="1.45"/><circle cx="89.01" cy="67.54" r="1.45"/><circle cx="92.73" cy="72.52" r="1.45"/><circle cx="94.43" cy="72.58" r="1.45"/><circle cx="96.12" cy="75.64" r="1.45"/><circle cx="97.81" cy="82.54" r="1.45"/><circle cx="99.5" cy="77.69" r="1.45"/><circle cx="101.19" cy="82.96" r="1.45"/><circle cx="102.89" cy="79.67" r="1.45"/><circle cx="104.58" cy="83.91" r="1.45"/><circle cx="106.27" cy="83.32" r="1.45"/><circle cx="107.96" cy="84.22" r="1.45"/><circle cx="109.65" cy="82.09" r="1.45"/><circle cx="111.35" cy="83.36" r="1.45"/><circle cx="112.59" cy="90.74" r="1.45"/><circle cx="114.93" cy="88.6" r="1.45"/><circle cx="116.23" cy="92.32" r="1.45"/><circle cx="118.01" cy="91.49" r="1.45"/><circle cx="120.22" cy="92.22" r="1.45"/><circle cx="121.96" cy="92.3" r="1.45"/><circle cx="122.44" cy="97.85" r="1.45"/><circle cx="123.83" cy="101.09" r="1.45"/><circle cx="124.61" cy="94.86" r="1.45"/><circle cx="125.96" cy="91" r="1.45"/><circle cx="126.2" cy="92.41" r="1.45"/><circle cx="127.63" cy="94.6" r="1.45"/><circle cx="128.35" cy="98.79" r="1.45"/><circle cx="129.42" cy="99.7" r="1.45"/><circle cx="131.03" cy="100.98" r="1.45"/><circle cx="131.97" cy="100.07" r="1.45"/><circle cx="132.75" cy="104.53" r="1.45"/><circle cx="133.23" cy="100.75" r="1.45"/><circle cx="134.5" cy="96.22" r="1.45"/><circle cx="135.71" cy="102.78" r="1.45"/><circle cx="136.7" cy="96.32" r="1.45"/><circle cx="137.45" cy="109.65" r="1.45"/><circle cx="139.15" cy="108.83" r="1.45"/><circle cx="139.47" cy="99.96" r="1.45"/><circle cx="140.76" cy="106.57" r="1.45"/><circle cx="141.47" cy="111.83" r="1.45"/><circle cx="142.52" cy="101.66" r="1.45"/><circle cx="143.97" cy="118.48" r="1.45"/><circle cx="144.4" cy="108.97" r="1.45"/><circle cx="145.47" cy="105.71" r="1.45"/><circle cx="147.28" cy="113.61" r="1.45"/><circle cx="148.26" cy="116.93" r="1.45"/><circle cx="149.1" cy="115.21" r="1.45"/><circle cx="150.36" cy="117.41" r="1.45"/><circle cx="150.66" cy="117.73" r="1.45"/><circle cx="151.76" cy="116.76" r="1.45"/><circle cx="152.65" cy="118.6" r="1.45"/><circle cx="153.72" cy="121.07" r="1.45"/><circle cx="154.87" cy="122.79" r="1.45"/><circle cx="156.18" cy="125.73" r="1.45"/><circle cx="156.76" cy="117.86" r="1.45"/><circle cx="157.85" cy="125.18" r="1.45"/><circle cx="158.84" cy="118.35" r="1.45"/><circle cx="160.22" cy="126.02" r="1.45"/><circle cx="161.03" cy="116.24" r="1.45"/><circle cx="162.13" cy="120.16" r="1.45"/><circle cx="163.22" cy="127.39" r="1.45"/><circle cx="163.92" cy="127.49" r="1.45"/><circle cx="164.74" cy="128.25" r="1.45"/><circle cx="165.95" cy="122.91" r="1.45"/><circle cx="166.96" cy="129.97" r="1.45"/><circle cx="168.25" cy="133.57" r="1.45"/><circle cx="169.7" cy="129.04" r="1.45"/><circle cx="169.76" cy="126.05" r="1.45"/><circle cx="171.13" cy="139.34" r="1.45"/><circle cx="172.69" cy="133.31" r="1.45"/><circle cx="173.33" cy="137.78" r="1.45"/><circle cx="174.43" cy="136.53" r="1.45"/><circle cx="175.59" cy="140.66" r="1.45"/><circle cx="176.34" cy="134.47" r="1.45"/><circle cx="177.52" cy="145.96" r="1.45"/><circle cx="178.37" cy="140.46" r="1.45"/><circle cx="179.64" cy="139.11" r="1.45"/><circle cx="180.05" cy="142.71" r="1.45"/><circle cx="180.91" cy="144.58" r="1.45"/><circle cx="181.84" cy="144.74" r="1.45"/><circle cx="181.89" cy="142.3" r="1.45"/><circle cx="182.74" cy="150.17" r="1.45"/><circle cx="183.34" cy="143.95" r="1.45"/><circle cx="183.47" cy="140.83" r="1.45"/><circle cx="184.6" cy="150.33" r="1.45"/><circle cx="185.49" cy="149.51" r="1.45"/><circle cx="185.23" cy="146.08" r="1.45"/><circle cx="186.3" cy="145.67" r="1.45"/><circle cx="186.66" cy="151.42" r="1.45"/><circle cx="187.78" cy="146.87" r="1.45"/><circle cx="188.15" cy="141.96" r="1.45"/><circle cx="188.71" cy="145.76" r="1.45"/><circle cx="188.91" cy="148.77" r="1.45"/><circle cx="189.67" cy="152.24" r="1.45"/><circle cx="190.57" cy="147.25" r="1.45"/><circle cx="191.07" cy="149.71" r="1.45"/><circle cx="191.22" cy="151.28" r="1.45"/><circle cx="192.54" cy="146.63" r="1.45"/><circle cx="192.48" cy="150.31" r="1.45"/><circle cx="193.6" cy="149.59" r="1.45"/><circle cx="193.56" cy="149.32" r="1.45"/><circle cx="194.5" cy="157.93" r="1.45"/><circle cx="195.66" cy="154.58" r="1.45"/><circle cx="195.32" cy="151.53" r="1.45"/><circle cx="196.86" cy="159.53" r="1.45"/><circle cx="196.61" cy="153.68" r="1.45"/><circle cx="197.09" cy="159.9" r="1.45"/><circle cx="197.89" cy="153.19" r="1.45"/><circle cx="198.63" cy="153.67" r="1.45"/><circle cx="199.13" cy="156.71" r="1.45"/><circle cx="199.46" cy="157.09" r="1.45"/><circle cx="201.01" cy="155.61" r="1.45"/><circle cx="200.84" cy="156.14" r="1.45"/><circle cx="201.45" cy="162.52" r="1.45"/><circle cx="202.25" cy="159.76" r="1.45"/><circle cx="203.32" cy="158.54" r="1.45"/><circle cx="203.96" cy="160.13" r="1.45"/><circle cx="204.18" cy="156.19" r="1.45"/><circle cx="204.81" cy="155.58" r="1.45"/><circle cx="204.81" cy="158.43" r="1.45"/><circle cx="206.21" cy="162.49" r="1.45"/><circle cx="206.53" cy="155.8" r="1.45"/><circle cx="206.92" cy="157.67" r="1.45"/><circle cx="207.96" cy="163.22" r="1.45"/><circle cx="207.93" cy="165.39" r="1.45"/><circle cx="208.65" cy="157.8" r="1.45"/><circle cx="209.06" cy="160.39" r="1.45"/><circle cx="209.69" cy="158.75" r="1.45"/><circle cx="210.39" cy="162.05" r="1.45"/><circle cx="211.12" cy="159.8" r="1.45"/><circle cx="212.13" cy="158.95" r="1.45"/><circle cx="212.06" cy="164.24" r="1.45"/><circle cx="213.14" cy="165.22" r="1.45"/><circle cx="213.41" cy="163.84" r="1.45"/><circle cx="213.82" cy="165.01" r="1.45"/><circle cx="214.49" cy="164.65" r="1.45"/><circle cx="215.53" cy="170.75" r="1.45"/><circle cx="215.68" cy="161.69" r="1.45"/><circle cx="216.94" cy="167.19" r="1.45"/><circle cx="216.96" cy="165.15" r="1.45"/><circle cx="218.1" cy="166.27" r="1.45"/><circle cx="217.8" cy="171.49" r="1.45"/><circle cx="218.46" cy="168.52" r="1.45"/><circle cx="219.85" cy="165.21" r="1.45"/><circle cx="220.08" cy="170.05" r="1.45"/><circle cx="220.2" cy="164.16" r="1.45"/><circle cx="220.78" cy="170.08" r="1.45"/><circle cx="221.48" cy="167.67" r="1.45"/><circle cx="222.24" cy="169.7" r="1.45"/><circle cx="222.94" cy="169.82" r="1.45"/><circle cx="223.82" cy="171.03" r="1.45"/><circle cx="223.96" cy="170.38" r="1.45"/><circle cx="224.44" cy="170.85" r="1.45"/><circle cx="225.09" cy="174.08" r="1.45"/><circle cx="225.88" cy="171.56" r="1.45"/><circle cx="226.46" cy="167.53" r="1.45"/><circle cx="226.96" cy="170.33" r="1.45"/><circle cx="227.6" cy="172.9" r="1.45"/><circle cx="227.87" cy="171.84" r="1.45"/><circle cx="229.07" cy="171.65" r="1.45"/><circle cx="230.01" cy="176.11" r="1.45"/><circle cx="229.92" cy="174.37" r="1.45"/><circle cx="230.43" cy="175.33" r="1.45"/><circle cx="231.5" cy="177.4" r="1.45"/><circle cx="232.27" cy="176.16" r="1.45"/><circle cx="232.23" cy="178.19" r="1.45"/><circle cx="233.01" cy="174.79" r="1.45"/><circle cx="233.57" cy="175.12" r="1.45"/><circle cx="234.1" cy="173.09" r="1.45"/><circle cx="234.86" cy="174.4" r="1.45"/><circle cx="235.36" cy="175.54" r="1.45"/><circle cx="236.02" cy="174.61" r="1.45"/><circle cx="236.38" cy="174.63" r="1.45"/><circle cx="236.82" cy="174.01" r="1.45"/><circle cx="237.47" cy="177.4" r="1.45"/><circle cx="238.5" cy="175.3" r="1.45"/><circle cx="239.21" cy="177.61" r="1.45"/><circle cx="239.12" cy="179.17" r="1.45"/><circle cx="239.76" cy="178.59" r="1.45"/><circle cx="240.69" cy="176.75" r="1.45"/><circle cx="241.46" cy="176.22" r="1.45"/><circle cx="241.94" cy="177.45" r="1.45"/><circle cx="242.08" cy="178.69" r="1.45"/><circle cx="243" cy="177.44" r="1.45"/><circle cx="243.51" cy="177.2" r="1.45"/><circle cx="244.51" cy="179.81" r="1.45"/><circle cx="245.05" cy="178.34" r="1.45"/><circle cx="245.98" cy="177.78" r="1.45"/><circle cx="246.56" cy="180.33" r="1.45"/><circle cx="246.98" cy="178.23" r="1.45"/><circle cx="247.21" cy="180.77" r="1.45"/><circle cx="247.81" cy="180.95" r="1.45"/><circle cx="248.86" cy="180.3" r="1.45"/><circle cx="248.96" cy="178.02" r="1.45"/><circle cx="249.3" cy="180.02" r="1.45"/><circle cx="250.27" cy="180.61" r="1.45"/><circle cx="251.33" cy="180.97" r="1.45"/><circle cx="251.09" cy="179.84" r="1.45"/><circle cx="252.22" cy="180.66" r="1.45"/><circle cx="252.36" cy="180.4" r="1.45"/><circle cx="253.11" cy="179.98" r="1.45"/><circle cx="253.55" cy="181.38" r="1.45"/><circle cx="254.45" cy="182.94" r="1.45"/><circle cx="255.12" cy="181.63" r="1.45"/><circle cx="256.06" cy="183.49" r="1.45"/><circle cx="256.02" cy="182.63" r="1.45"/><circle cx="256.59" cy="183.22" r="1.45"/><circle cx="257.58" cy="180.68" r="1.45"/><circle cx="258.42" cy="182.86" r="1.45"/><circle cx="258.87" cy="183.83" r="1.45"/><circle cx="259.13" cy="181.98" r="1.45"/><circle cx="259.8" cy="181.73" r="1.45"/><circle cx="260.58" cy="183.42" r="1.45"/><circle cx="260.95" cy="182.5" r="1.45"/><circle cx="261.34" cy="183.1" r="1.45"/><circle cx="261.78" cy="182.6" r="1.45"/><circle cx="262.26" cy="183.87" r="1.45"/><circle cx="262.86" cy="183.57" r="1.45"/><circle cx="263.49" cy="182.53" r="1.45"/><circle cx="264.42" cy="182.93" r="1.45"/><circle cx="264.73" cy="183.75" r="1.45"/><circle cx="266.02" cy="185.04" r="1.45"/><circle cx="266" cy="183.94" r="1.45"/><circle cx="266.85" cy="184.48" r="1.45"/><circle cx="267.65" cy="184.13" r="1.45"/><circle cx="267.78" cy="185.37" r="1.45"/><circle cx="268.45" cy="184.81" r="1.45"/><circle cx="269.47" cy="185.54" r="1.45"/><circle cx="269.87" cy="183.95" r="1.45"/><circle cx="270.31" cy="186.42" r="1.45"/></g>
<g fill="#1b75bc"><circle cx="70.4" cy="52.09" r="1.45"/><circle cx="74.12" cy="56.39" r="1.45"/><circle cx="77.84" cy="57.31" r="1.45"/><circle cx="81.57" cy="63.47" r="1.45"/><circle cx="85.29" cy="63.69" r="1.45"/><circle cx="89.01" cy="66.16" r="1.45"/><circle cx="92.73" cy="71.24" r="1.45"/><circle cx="94.43" cy="73.35" r="1.45"/><circle cx="96.12" cy="72.67" r="1.45"/><circle cx="97.81" cy="73.65" r="1.45"/><circle cx="99.5" cy="82.05" r="1.45"/><circle cx="101.19" cy="80.75" r="1.45"/><circle cx="102.89" cy="76.1" r="1.45"/><circle cx="104.58" cy="79.51" r="1.45"/><circle cx="106.27" cy="81.8" r="1.45"/><circle cx="107.96" cy="85.01" r="1.45"/><circle cx="109.65" cy="85.3" r="1.45"/><circle cx="111.35" cy="86.76" r="1.45"/><circle cx="112.59" cy="76.03" r="1.45"/><circle cx="114.94" cy="90.94" r="1.45"/><circle cx="116.21" cy="87.26" r="1.45"/><circle cx="118.35" cy="88.58" r="1.45"/><circle cx="119.64" cy="88.79" r="1.45"/><circle cx="121.02" cy="91.87" r="1.45"/><circle cx="122.39" cy="96.38" r="1.45"/><circle cx="123.34" cy="94.36" r="1.45"/><circle cx="124.33" cy="92.02" r="1.45"/><circle cx="125.45" cy="101.09" r="1.45"/><circle cx="127.06" cy="99.93" r="1.45"/><circle cx="127.48" cy="100.31" r="1.45"/><circle cx="128.9" cy="98.6" r="1.45"/><circle cx="129.27" cy="101.93" r="1.45"/><circle cx="131.07" cy="97.88" r="1.45"/><circle cx="131.4" cy="97.92" r="1.45"/><circle cx="132.49" cy="101.88" r="1.45"/><circle cx="133.2" cy="100.77" r="1.45"/><circle cx="134.82" cy="103.42" r="1.45"/><circle cx="135.49" cy="103.19" r="1.45"/><circle cx="136.59" cy="102.65" r="1.45"/><circle cx="137.5" cy="100.1" r="1.45"/><circle cx="139.15" cy="103.64" r="1.45"/><circle cx="139.58" cy="105.25" r="1.45"/><circle cx="140.77" cy="104.54" r="1.45"/><circle cx="142.3" cy="106.25" r="1.45"/><circle cx="142.8" cy="106.05" r="1.45"/><circle cx="143.75" cy="102.29" r="1.45"/><circle cx="144.41" cy="108.51" r="1.45"/><circle cx="145.91" cy="113.79" r="1.45"/><circle cx="146.66" cy="114.02" r="1.45"/><circle cx="148.33" cy="116.19" r="1.45"/><circle cx="148.85" cy="105.67" r="1.45"/><circle cx="150.26" cy="122.14" r="1.45"/><circle cx="150.47" cy="114.95" r="1.45"/><circle cx="151.62" cy="117.55" r="1.45"/><circle cx="152.83" cy="115.25" r="1.45"/><circle cx="154.24" cy="116.14" r="1.45"/><circle cx="154.51" cy="119.4" r="1.45"/><circle cx="155.73" cy="114.83" r="1.45"/><circle cx="157.06" cy="119" r="1.45"/><circle cx="158.36" cy="120.45" r="1.45"/><circle cx="158.96" cy="119.65" r="1.45"/><circle cx="160.38" cy="127.37" r="1.45"/><circle cx="161.58" cy="120" r="1.45"/><circle cx="161.71" cy="128.85" r="1.45"/><circle cx="163.33" cy="121.23" r="1.45"/><circle cx="163.89" cy="126.56" r="1.45"/><circle cx="165.23" cy="125.78" r="1.45"/><circle cx="165.89" cy="127.74" r="1.45"/><circle cx="167.34" cy="130.79" r="1.45"/><circle cx="168.51" cy="127.05" r="1.45"/><circle cx="169.07" cy="133.35" r="1.45"/><circle cx="170.01" cy="127.34" r="1.45"/><circle cx="170.84" cy="129.44" r="1.45"/><circle cx="172.09" cy="134.59" r="1.45"/><circle cx="173.52" cy="133.93" r="1.45"/><circle cx="174.34" cy="137.1" r="1.45"/><circle cx="174.91" cy="136.58" r="1.45"/><circle cx="175.96" cy="138.54" r="1.45"/><circle cx="176.84" cy="139.67" r="1.45"/><circle cx="178.35" cy="135.58" r="1.45"/><circle cx="179.4" cy="141.86" r="1.45"/><circle cx="180.83" cy="138.7" r="1.45"/><circle cx="180.79" cy="139" r="1.45"/><circle cx="181.82" cy="134.93" r="1.45"/><circle cx="182.09" cy="134.46" r="1.45"/><circle cx="183.21" cy="136.49" r="1.45"/><circle cx="183.55" cy="142.52" r="1.45"/><circle cx="183.61" cy="140.45" r="1.45"/><circle cx="184.97" cy="144.97" r="1.45"/><circle cx="184.94" cy="140.07" r="1.45"/><circle cx="186.2" cy="144.17" r="1.45"/><circle cx="185.95" cy="143.23" r="1.45"/><circle cx="187.04" cy="148.52" r="1.45"/><circle cx="187.2" cy="149.15" r="1.45"/><circle cx="188.43" cy="152.06" r="1.45"/><circle cx="188.8" cy="151.91" r="1.45"/><circle cx="188.88" cy="151.94" r="1.45"/><circle cx="190.19" cy="148.52" r="1.45"/><circle cx="190.61" cy="149.99" r="1.45"/><circle cx="190.96" cy="152.18" r="1.45"/><circle cx="191.73" cy="151.13" r="1.45"/><circle cx="192.3" cy="148.54" r="1.45"/><circle cx="192.94" cy="151.04" r="1.45"/><circle cx="193.36" cy="150.76" r="1.45"/><circle cx="194.43" cy="154.22" r="1.45"/><circle cx="194.24" cy="153.53" r="1.45"/><circle cx="195.42" cy="160.34" r="1.45"/><circle cx="195.59" cy="150.56" r="1.45"/><circle cx="196.27" cy="153.29" r="1.45"/><circle cx="197.33" cy="161" r="1.45"/><circle cx="197.54" cy="147.8" r="1.45"/><circle cx="197.88" cy="148.13" r="1.45"/><circle cx="199.18" cy="152.17" r="1.45"/><circle cx="199.66" cy="157.64" r="1.45"/><circle cx="200.42" cy="154.05" r="1.45"/><circle cx="200.08" cy="158.14" r="1.45"/><circle cx="200.86" cy="153.08" r="1.45"/><circle cx="202.01" cy="158.86" r="1.45"/><circle cx="202.66" cy="159.3" r="1.45"/><circle cx="202.58" cy="156.05" r="1.45"/><circle cx="203.05" cy="157.87" r="1.45"/><circle cx="204.12" cy="154.44" r="1.45"/><circle cx="204.4" cy="157.43" r="1.45"/><circle cx="205.55" cy="160.91" r="1.45"/><circle cx="205.89" cy="156.53" r="1.45"/><circle cx="206.84" cy="162.09" r="1.45"/><circle cx="206.89" cy="159.24" r="1.45"/><circle cx="207.22" cy="161.11" r="1.45"/><circle cx="208.58" cy="158.53" r="1.45"/><circle cx="209.14" cy="160.33" r="1.45"/><circle cx="209.29" cy="160.21" r="1.45"/><circle cx="210.34" cy="160.7" r="1.45"/><circle cx="210.15" cy="164.95" r="1.45"/><circle cx="211.66" cy="165" r="1.45"/><circle cx="212.14" cy="161.99" r="1.45"/><circle cx="212.59" cy="160.61" r="1.45"/><circle cx="212.88" cy="162.47" r="1.45"/><circle cx="213.06" cy="161.16" r="1.45"/><circle cx="214.27" cy="164.67" r="1.45"/><circle cx="214.51" cy="162.91" r="1.45"/><circle cx="215" cy="166.44" r="1.45"/><circle cx="215.54" cy="166.19" r="1.45"/><circle cx="216.13" cy="165.57" r="1.45"/><circle cx="216.71" cy="166.86" r="1.45"/><circle cx="217.55" cy="163.53" r="1.45"/><circle cx="217.98" cy="166.5" r="1.45"/><circle cx="219.11" cy="163.76" r="1.45"/><circle cx="219.33" cy="166.36" r="1.45"/><circle cx="219.7" cy="167.09" r="1.45"/><circle cx="220.78" cy="165.5" r="1.45"/><circle cx="221.15" cy="169.33" r="1.45"/><circle cx="221.79" cy="166.22" r="1.45"/><circle cx="222.27" cy="170.73" r="1.45"/><circle cx="223.22" cy="167.98" r="1.45"/><circle cx="223.4" cy="167.94" r="1.45"/><circle cx="224.58" cy="166.7" r="1.45"/><circle cx="224.97" cy="169.1" r="1.45"/><circle cx="225.34" cy="166.51" r="1.45"/><circle cx="226.22" cy="167.96" r="1.45"/><circle cx="226.67" cy="169.71" r="1.45"/><circle cx="227.08" cy="169.87" r="1.45"/><circle cx="227.54" cy="169.58" r="1.45"/><circle cx="228.14" cy="172.45" r="1.45"/><circle cx="229.14" cy="169.2" r="1.45"/><circle cx="229.44" cy="170.76" r="1.45"/><circle cx="229.76" cy="171.3" r="1.45"/><circle cx="230.64" cy="170.22" r="1.45"/><circle cx="231.15" cy="171.53" r="1.45"/><circle cx="231.99" cy="170.46" r="1.45"/><circle cx="232.54" cy="173.23" r="1.45"/><circle cx="232.67" cy="170.06" r="1.45"/><circle cx="233.54" cy="170.76" r="1.45"/><circle cx="234.44" cy="173.23" r="1.45"/><circle cx="234.71" cy="171.32" r="1.45"/><circle cx="234.98" cy="170.79" r="1.45"/><circle cx="236.18" cy="174.17" r="1.45"/><circle cx="236.6" cy="173.89" r="1.45"/><circle cx="237.05" cy="173.09" r="1.45"/><circle cx="238.29" cy="174.05" r="1.45"/><circle cx="238.89" cy="174.76" r="1.45"/><circle cx="239.34" cy="172.99" r="1.45"/><circle cx="239.75" cy="174.14" r="1.45"/><circle cx="239.76" cy="175.17" r="1.45"/><circle cx="240.75" cy="177.33" r="1.45"/><circle cx="241.09" cy="175.54" r="1.45"/><circle cx="242.46" cy="173.83" r="1.45"/><circle cx="242.2" cy="174.5" r="1.45"/><circle cx="243.05" cy="174" r="1.45"/><circle cx="243.41" cy="174.98" r="1.45"/><circle cx="244.49" cy="175.46" r="1.45"/><circle cx="244.68" cy="176.27" r="1.45"/><circle cx="245.83" cy="176.37" r="1.45"/><circle cx="245.73" cy="175.64" r="1.45"/><circle cx="246.68" cy="177.12" r="1.45"/><circle cx="247.74" cy="173.93" r="1.45"/><circle cx="248.29" cy="175.65" r="1.45"/><circle cx="248.52" cy="175.12" r="1.45"/><circle cx="249.11" cy="175.94" r="1.45"/><circle cx="249.47" cy="174.98" r="1.45"/><circle cx="250.27" cy="175.3" r="1.45"/><circle cx="250.48" cy="175.61" r="1.45"/><circle cx="251.03" cy="175.74" r="1.45"/><circle cx="252.31" cy="177.44" r="1.45"/><circle cx="252.38" cy="176.87" r="1.45"/><circle cx="252.94" cy="177.19" r="1.45"/><circle cx="253.76" cy="176.9" r="1.45"/><circle cx="254.76" cy="178.11" r="1.45"/><circle cx="254.6" cy="177.66" r="1.45"/><circle cx="256.06" cy="177.12" r="1.45"/><circle cx="256.21" cy="177.97" r="1.45"/><circle cx="257.14" cy="178.7" r="1.45"/><circle cx="257.83" cy="177.11" r="1.45"/><circle cx="257.61" cy="178.03" r="1.45"/><circle cx="258.87" cy="177.97" r="1.45"/><circle cx="258.8" cy="178.3" r="1.45"/><circle cx="259.77" cy="179.7" r="1.45"/><circle cx="260.13" cy="177.98" r="1.45"/><circle cx="261.39" cy="178.46" r="1.45"/><circle cx="261.06" cy="179.75" r="1.45"/><circle cx="262.02" cy="180.15" r="1.45"/><circle cx="262.31" cy="178.29" r="1.45"/><circle cx="263.71" cy="178.7" r="1.45"/><circle cx="264.03" cy="179.65" r="1.45"/><circle cx="264.86" cy="178.36" r="1.45"/><circle cx="265.07" cy="178.3" r="1.45"/><circle cx="266.06" cy="179.91" r="1.45"/><circle cx="266.49" cy="180.24" r="1.45"/><circle cx="266.6" cy="179.3" r="1.45"/><circle cx="267.41" cy="180.53" r="1.45"/><circle cx="267.88" cy="179.31" r="1.45"/><circle cx="268.17" cy="181.03" r="1.45"/><circle cx="269.55" cy="179.84" r="1.45"/><circle cx="269.85" cy="179.36" r="1.45"/><circle cx="270.29" cy="180.09" r="1.45"/></g>
<g fill="#1f4e9c"><path d="M68.65,47.32h3.5l-1.75,2.9z"/><path d="M72.37,50.2h3.5l-1.75,2.9z"/><path d="M76.09,54.58h3.5l-1.75,2.9z"/><path d="M79.82,56.44h3.5l-1.75,2.9z"/><path d="M83.54,61.64h3.5l-1.75,2.9z"/><path d="M87.26,63.13h3.5l-1.75,2.9z"/><path d="M90.98,66.06h3.5l-1.75,2.9z"/><path d="M92.68,70.49h3.5l-1.75,2.9z"/><path d="M94.37,65.56h3.5l-1.75,2.9z"/><path d="M96.06,69.65h3.5l-1.75,2.9z"/><path d="M97.75,70.71h3.5l-1.75,2.9z"/><path d="M99.44,72.43h3.5l-1.75,2.9z"/><path d="M101.14,80.89h3.5l-1.75,2.9z"/><path d="M102.83,79.73h3.5l-1.75,2.9z"/><path d="M104.52,79.22h3.5l-1.75,2.9z"/><path d="M106.21,73.91h3.5l-1.75,2.9z"/><path d="M107.9,80.63h3.5l-1.75,2.9z"/><path d="M109.6,77.77h3.5l-1.75,2.9z"/><path d="M111.1,84.74h3.5l-1.75,2.9z"/><path d="M112.98,85.36h3.5l-1.75,2.9z"/><path d="M114.23,89.45h3.5l-1.75,2.9z"/><path d="M115.96,85.55h3.5l-1.75,2.9z"/><path d="M118.35,86.27h3.5l-1.75,2.9z"/><path d="M119.67,84.76h3.5l-1.75,2.9z"/><path d="M120.55,86.02h3.5l-1.75,2.9z"/><path d="M121.96,91.71h3.5l-1.75,2.9z"/><path d="M123.13,81.24h3.5l-1.75,2.9z"/><path d="M123.64,85.45h3.5l-1.75,2.9z"/><path d="M125.11,93.91h3.5l-1.75,2.9z"/><path d="M125.98,86.23h3.5l-1.75,2.9z"/><path d="M126.4,87.32h3.5l-1.75,2.9z"/><path d="M127.99,91.52h3.5l-1.75,2.9z"/><path d="M129.02,101.8h3.5l-1.75,2.9z"/><path d="M129.42,97.62h3.5l-1.75,2.9z"/><path d="M131,90.56h3.5l-1.75,2.9z"/><path d="M131.44,98.91h3.5l-1.75,2.9z"/><path d="M133.13,97.65h3.5l-1.75,2.9z"/><path d="M134.44,101.69h3.5l-1.75,2.9z"/><path d="M135.26,97.73h3.5l-1.75,2.9z"/><path d="M135.93,100.4h3.5l-1.75,2.9z"/><path d="M136.95,100.51h3.5l-1.75,2.9z"/><path d="M137.96,104.71h3.5l-1.75,2.9z"/><path d="M139.27,99.93h3.5l-1.75,2.9z"/><path d="M139.62,100.94h3.5l-1.75,2.9z"/><path d="M141.23,98.92h3.5l-1.75,2.9z"/><path d="M142.13,100.26h3.5l-1.75,2.9z"/><path d="M142.91,104.11h3.5l-1.75,2.9z"/><path d="M144.57,105.11h3.5l-1.75,2.9z"/><path d="M144.84,114.3h3.5l-1.75,2.9z"/><path d="M146.06,110.75h3.5l-1.75,2.9z"/><path d="M146.78,115.11h3.5l-1.75,2.9z"/><path d="M148.55,110.99h3.5l-1.75,2.9z"/><path d="M149.12,111.17h3.5l-1.75,2.9z"/><path d="M150.08,110.98h3.5l-1.75,2.9z"/><path d="M151.21,115.57h3.5l-1.75,2.9z"/><path d="M152.42,119.8h3.5l-1.75,2.9z"/><path d="M152.86,118.14h3.5l-1.75,2.9z"/><path d="M154.51,110.51h3.5l-1.75,2.9z"/><path d="M154.98,112.91h3.5l-1.75,2.9z"/><path d="M156.14,112.05h3.5l-1.75,2.9z"/><path d="M157.4,115.18h3.5l-1.75,2.9z"/><path d="M158.35,114.9h3.5l-1.75,2.9z"/><path d="M159.68,121.91h3.5l-1.75,2.9z"/><path d="M160.21,116.43h3.5l-1.75,2.9z"/><path d="M161.85,123.68h3.5l-1.75,2.9z"/><path d="M162.21,123.17h3.5l-1.75,2.9z"/><path d="M163.16,122.93h3.5l-1.75,2.9z"/><path d="M164.65,125.42h3.5l-1.75,2.9z"/><path d="M165,126.33h3.5l-1.75,2.9z"/><path d="M166.77,126.09h3.5l-1.75,2.9z"/><path d="M167.4,129.74h3.5l-1.75,2.9z"/><path d="M168.6,122.92h3.5l-1.75,2.9z"/><path d="M169.9,136.41h3.5l-1.75,2.9z"/><path d="M170.46,132.02h3.5l-1.75,2.9z"/><path d="M171.78,132h3.5l-1.75,2.9z"/><path d="M172.14,130.24h3.5l-1.75,2.9z"/><path d="M173.09,133.7h3.5l-1.75,2.9z"/><path d="M174.77,126.11h3.5l-1.75,2.9z"/><path d="M175.42,137.2h3.5l-1.75,2.9z"/><path d="M176.25,136.02h3.5l-1.75,2.9z"/><path d="M177.92,129.75h3.5l-1.75,2.9z"/><path d="M178.23,137.89h3.5l-1.75,2.9z"/><path d="M178.92,136.23h3.5l-1.75,2.9z"/><path d="M179.85,139.57h3.5l-1.75,2.9z"/><path d="M180.67,139.15h3.5l-1.75,2.9z"/><path d="M181.08,139.49h3.5l-1.75,2.9z"/><path d="M181.78,133.04h3.5l-1.75,2.9z"/><path d="M182.05,143.92h3.5l-1.75,2.9z"/><path d="M182.57,135.27h3.5l-1.75,2.9z"/><path d="M183.73,142.27h3.5l-1.75,2.9z"/><path d="M183.71,141.67h3.5l-1.75,2.9z"/><path d="M184.07,144.33h3.5l-1.75,2.9z"/><path d="M184.94,144.79h3.5l-1.75,2.9z"/><path d="M185.49,143.41h3.5l-1.75,2.9z"/><path d="M186.1,140.85h3.5l-1.75,2.9z"/><path d="M186.71,141.07h3.5l-1.75,2.9z"/><path d="M187.89,144.68h3.5l-1.75,2.9z"/><path d="M187.77,140.93h3.5l-1.75,2.9z"/><path d="M188.81,141.14h3.5l-1.75,2.9z"/><path d="M189.33,149.75h3.5l-1.75,2.9z"/><path d="M190.04,146.04h3.5l-1.75,2.9z"/><path d="M190.89,149.65h3.5l-1.75,2.9z"/><path d="M190.62,146.13h3.5l-1.75,2.9z"/><path d="M192.1,149.07h3.5l-1.75,2.9z"/><path d="M191.98,150.52h3.5l-1.75,2.9z"/><path d="M192.8,143.99h3.5l-1.75,2.9z"/><path d="M193.88,151.18h3.5l-1.75,2.9z"/><path d="M194.03,145.33h3.5l-1.75,2.9z"/><path d="M194.35,151.22h3.5l-1.75,2.9z"/><path d="M195.66,150.34h3.5l-1.75,2.9z"/><path d="M195.96,144.96h3.5l-1.75,2.9z"/><path d="M195.97,146.23h3.5l-1.75,2.9z"/><path d="M197.05,149.62h3.5l-1.75,2.9z"/><path d="M197.2,151.68h3.5l-1.75,2.9z"/><path d="M198.54,149.27h3.5l-1.75,2.9z"/><path d="M198.33,151.98h3.5l-1.75,2.9z"/><path d="M198.89,152.7h3.5l-1.75,2.9z"/><path d="M200.02,153.44h3.5l-1.75,2.9z"/><path d="M200.9,149.49h3.5l-1.75,2.9z"/><path d="M201.42,153.87h3.5l-1.75,2.9z"/><path d="M201.75,154.82h3.5l-1.75,2.9z"/><path d="M202,154.44h3.5l-1.75,2.9z"/><path d="M202.91,156.8h3.5l-1.75,2.9z"/><path d="M203.2,155.49h3.5l-1.75,2.9z"/><path d="M204.08,156.19h3.5l-1.75,2.9z"/><path d="M204.27,158.11h3.5l-1.75,2.9z"/><path d="M205.75,159.07h3.5l-1.75,2.9z"/><path d="M205.93,156.59h3.5l-1.75,2.9z"/><path d="M206.3,156.09h3.5l-1.75,2.9z"/><path d="M207.26,156.37h3.5l-1.75,2.9z"/><path d="M208.1,153.06h3.5l-1.75,2.9z"/><path d="M208.67,160.45h3.5l-1.75,2.9z"/><path d="M208.35,156.08h3.5l-1.75,2.9z"/><path d="M209.41,162.69h3.5l-1.75,2.9z"/><path d="M210.13,162.07h3.5l-1.75,2.9z"/><path d="M210.72,161.6h3.5l-1.75,2.9z"/><path d="M211.22,159.72h3.5l-1.75,2.9z"/><path d="M212.25,161.01h3.5l-1.75,2.9z"/><path d="M212.75,160.19h3.5l-1.75,2.9z"/><path d="M213.43,161.14h3.5l-1.75,2.9z"/><path d="M213.9,161.18h3.5l-1.75,2.9z"/><path d="M214.35,161.83h3.5l-1.75,2.9z"/><path d="M215.01,164.26h3.5l-1.75,2.9z"/><path d="M215.65,162.73h3.5l-1.75,2.9z"/><path d="M216.23,162.19h3.5l-1.75,2.9z"/><path d="M217.01,163.06h3.5l-1.75,2.9z"/><path d="M216.96,162.6h3.5l-1.75,2.9z"/><path d="M217.56,164.92h3.5l-1.75,2.9z"/><path d="M218.07,161.51h3.5l-1.75,2.9z"/><path d="M218.99,163.99h3.5l-1.75,2.9z"/><path d="M219.67,165.72h3.5l-1.75,2.9z"/><path d="M220.04,164.99h3.5l-1.75,2.9z"/><path d="M220.35,164.81h3.5l-1.75,2.9z"/><path d="M220.92,162.7h3.5l-1.75,2.9z"/><path d="M222.14,165.63h3.5l-1.75,2.9z"/><path d="M222.29,164.44h3.5l-1.75,2.9z"/><path d="M222.81,165.97h3.5l-1.75,2.9z"/><path d="M223.66,164.62h3.5l-1.75,2.9z"/><path d="M223.91,166.67h3.5l-1.75,2.9z"/><path d="M224.55,164.5h3.5l-1.75,2.9z"/><path d="M225.64,167.41h3.5l-1.75,2.9z"/><path d="M226.18,166.4h3.5l-1.75,2.9z"/><path d="M226.18,167.24h3.5l-1.75,2.9z"/><path d="M227.45,169.11h3.5l-1.75,2.9z"/><path d="M227.7,168.04h3.5l-1.75,2.9z"/><path d="M228.86,167.57h3.5l-1.75,2.9z"/><path d="M229.38,169.2h3.5l-1.75,2.9z"/><path d="M230.05,168.09h3.5l-1.75,2.9z"/><path d="M230.44,169.41h3.5l-1.75,2.9z"/><path d="M231.03,168.9h3.5l-1.75,2.9z"/><path d="M231.22,170.37h3.5l-1.75,2.9z"/><path d="M231.72,168.27h3.5l-1.75,2.9z"/><path d="M232.5,171.23h3.5l-1.75,2.9z"/><path d="M233.43,171.01h3.5l-1.75,2.9z"/><path d="M233.58,169.3h3.5l-1.75,2.9z"/><path d="M233.86,170.51h3.5l-1.75,2.9z"/><path d="M234.59,170.39h3.5l-1.75,2.9z"/><path d="M235.86,171.3h3.5l-1.75,2.9z"/><path d="M235.92,169.23h3.5l-1.75,2.9z"/><path d="M237.1,171.99h3.5l-1.75,2.9z"/><path d="M237.7,170.79h3.5l-1.75,2.9z"/><path d="M237.54,170.79h3.5l-1.75,2.9z"/><path d="M238.82,171.13h3.5l-1.75,2.9z"/><path d="M239.26,171.13h3.5l-1.75,2.9z"/><path d="M239.5,171.33h3.5l-1.75,2.9z"/><path d="M239.84,172.7h3.5l-1.75,2.9z"/><path d="M240.38,172.82h3.5l-1.75,2.9z"/><path d="M241.09,170.53h3.5l-1.75,2.9z"/><path d="M241.8,172.93h3.5l-1.75,2.9z"/><path d="M242.27,172.65h3.5l-1.75,2.9z"/><path d="M243.22,172.22h3.5l-1.75,2.9z"/><path d="M243.84,172.36h3.5l-1.75,2.9z"/><path d="M244.81,173.17h3.5l-1.75,2.9z"/><path d="M244.54,174.48h3.5l-1.75,2.9z"/><path d="M245.36,173.44h3.5l-1.75,2.9z"/><path d="M246.4,173.27h3.5l-1.75,2.9z"/><path d="M246.39,172.8h3.5l-1.75,2.9z"/><path d="M247.16,174.36h3.5l-1.75,2.9z"/><path d="M248.21,174.68h3.5l-1.75,2.9z"/><path d="M248.98,174.43h3.5l-1.75,2.9z"/><path d="M249.45,175.43h3.5l-1.75,2.9z"/><path d="M249.66,174.06h3.5l-1.75,2.9z"/><path d="M250.76,173.7h3.5l-1.75,2.9z"/><path d="M250.4,172.6h3.5l-1.75,2.9z"/><path d="M251.02,174.66h3.5l-1.75,2.9z"/><path d="M251.73,175.76h3.5l-1.75,2.9z"/><path d="M252.37,174.3h3.5l-1.75,2.9z"/><path d="M252.77,173.8h3.5l-1.75,2.9z"/><path d="M253.84,174.92h3.5l-1.75,2.9z"/><path d="M254.58,173.77h3.5l-1.75,2.9z"/><path d="M254.54,176.03h3.5l-1.75,2.9z"/><path d="M255.42,175.47h3.5l-1.75,2.9z"/><path d="M256.33,175.04h3.5l-1.75,2.9z"/><path d="M256.67,175.66h3.5l-1.75,2.9z"/><path d="M257.21,177.21h3.5l-1.75,2.9z"/><path d="M257.84,175.88h3.5l-1.75,2.9z"/><path d="M258.49,175.33h3.5l-1.75,2.9z"/><path d="M259.21,177.13h3.5l-1.75,2.9z"/><path d="M260.18,177.24h3.5l-1.75,2.9z"/><path d="M260.09,176.38h3.5l-1.75,2.9z"/><path d="M261.33,175.08h3.5l-1.75,2.9z"/><path d="M261.2,177.52h3.5l-1.75,2.9z"/><path d="M261.92,179.55h3.5l-1.75,2.9z"/><path d="M262.39,177.22h3.5l-1.75,2.9z"/><path d="M263.4,177.31h3.5l-1.75,2.9z"/><path d="M263.56,177.97h3.5l-1.75,2.9z"/><path d="M264.1,176.75h3.5l-1.75,2.9z"/><path d="M265.28,177.81h3.5l-1.75,2.9z"/><path d="M265.68,178.35h3.5l-1.75,2.9z"/><path d="M266.7,176.87h3.5l-1.75,2.9z"/><path d="M266.37,178.81h3.5l-1.75,2.9z"/><path d="M267.46,178.14h3.5l-1.75,2.9z"/><path d="M268.18,178.32h3.5l-1.75,2.9z"/><path d="M268.61,177.14h3.5l-1.75,2.9z"/></g>
<g fill="#3fbde2"><path d="M68.65,47.86h3.5l-1.75,2.9z"/><path d="M72.37,51.51h3.5l-1.75,2.9z"/><path d="M76.09,56.95h3.5l-1.75,2.9z"/><path d="M79.82,58.51h3.5l-1.75,2.9z"/><path d="M83.54,60.71h3.5l-1.75,2.9z"/><path d="M87.26,65.09h3.5l-1.75,2.9z"/><path d="M90.98,68.55h3.5l-1.75,2.9z"/><path d="M92.68,68.4h3.5l-1.75,2.9z"/><path d="M94.37,69.4h3.5l-1.75,2.9z"/><path d="M96.06,73.5h3.5l-1.75,2.9z"/><path d="M97.75,69.81h3.5l-1.75,2.9z"/><path d="M99.44,79.15h3.5l-1.75,2.9z"/><path d="M101.14,75.33h3.5l-1.75,2.9z"/><path d="M102.83,68.92h3.5l-1.75,2.9z"/><path d="M104.52,81.26h3.5l-1.75,2.9z"/><path d="M106.21,78.98h3.5l-1.75,2.9z"/><path d="M107.9,87.99h3.5l-1.75,2.9z"/><path d="M109.6,84.24h3.5l-1.75,2.9z"/><path d="M111.08,86.63h3.5l-1.75,2.9z"/><path d="M113.32,83.69h3.5l-1.75,2.9z"/><path d="M114.37,88.36h3.5l-1.75,2.9z"/><path d="M116.08,86.53h3.5l-1.75,2.9z"/><path d="M118.54,84.59h3.5l-1.75,2.9z"/><path d="M120.17,94.37h3.5l-1.75,2.9z"/><path d="M120.98,92.2h3.5l-1.75,2.9z"/><path d="M122.09,96.17h3.5l-1.75,2.9z"/><path d="M123.11,90.59h3.5l-1.75,2.9z"/><path d="M123.61,94.07h3.5l-1.75,2.9z"/><path d="M124.35,92.5h3.5l-1.75,2.9z"/><path d="M125.85,85.81h3.5l-1.75,2.9z"/><path d="M126.97,97.68h3.5l-1.75,2.9z"/><path d="M128.28,89.97h3.5l-1.75,2.9z"/><path d="M128.45,91.3h3.5l-1.75,2.9z"/><path d="M130.07,98.62h3.5l-1.75,2.9z"/><path d="M131.29,89.77h3.5l-1.75,2.9z"/><path d="M131.74,91.89h3.5l-1.75,2.9z"/><path d="M133.2,96.78h3.5l-1.75,2.9z"/><path d="M134.45,94.73h3.5l-1.75,2.9z"/><path d="M135.2,101.69h3.5l-1.75,2.9z"/><path d="M135.55,102.47h3.5l-1.75,2.9z"/><path d="M137.29,98.06h3.5l-1.75,2.9z"/><path d="M138.4,107.21h3.5l-1.75,2.9z"/><path d="M139.18,111.17h3.5l-1.75,2.9z"/><path d="M140.04,107.96h3.5l-1.75,2.9z"/><path d="M140.59,107.71h3.5l-1.75,2.9z"/><path d="M141.74,103.97h3.5l-1.75,2.9z"/><path d="M143.25,106.22h3.5l-1.75,2.9z"/><path d="M144.39,110.13h3.5l-1.75,2.9z"/><path d="M144.94,109.98h3.5l-1.75,2.9z"/><path d="M145.92,113.27h3.5l-1.75,2.9z"/><path d="M147.35,108.27h3.5l-1.75,2.9z"/><path d="M148.62,106.4h3.5l-1.75,2.9z"/><path d="M149.6,115.64h3.5l-1.75,2.9z"/><path d="M149.99,105.72h3.5l-1.75,2.9z"/><path d="M151.68,108.86h3.5l-1.75,2.9z"/><path d="M152.51,115.68h3.5l-1.75,2.9z"/><path d="M153.27,116.47h3.5l-1.75,2.9z"/><path d="M154.25,113.47h3.5l-1.75,2.9z"/><path d="M155.32,110h3.5l-1.75,2.9z"/><path d="M156.27,116h3.5l-1.75,2.9z"/><path d="M157.01,118.42h3.5l-1.75,2.9z"/><path d="M158.41,121.76h3.5l-1.75,2.9z"/><path d="M158.91,119.79h3.5l-1.75,2.9z"/><path d="M159.91,117.77h3.5l-1.75,2.9z"/><path d="M161.82,124.36h3.5l-1.75,2.9z"/><path d="M162.53,119.36h3.5l-1.75,2.9z"/><path d="M163.14,126.64h3.5l-1.75,2.9z"/><path d="M164.39,122.73h3.5l-1.75,2.9z"/><path d="M165.37,123.76h3.5l-1.75,2.9z"/><path d="M166.63,126.83h3.5l-1.75,2.9z"/><path d="M167.6,126.96h3.5l-1.75,2.9z"/><path d="M168.92,132.61h3.5l-1.75,2.9z"/><path d="M169.53,127.01h3.5l-1.75,2.9z"/><path d="M171.01,131.59h3.5l-1.75,2.9z"/><path d="M171.79,133.21h3.5l-1.75,2.9z"/><path d="M172.1,132.33h3.5l-1.75,2.9z"/><path d="M173.33,130.33h3.5l-1.75,2.9z"/><path d="M174.79,130.31h3.5l-1.75,2.9z"/><path d="M175.85,135.2h3.5l-1.75,2.9z"/><path d="M176.75,138.65h3.5l-1.75,2.9z"/><path d="M177.55,137.68h3.5l-1.75,2.9z"/><path d="M178.24,141.17h3.5l-1.75,2.9z"/><path d="M179.61,146.36h3.5l-1.75,2.9z"/><path d="M179.37,137.45h3.5l-1.75,2.9z"/><path d="M180.6,136.96h3.5l-1.75,2.9z"/><path d="M180.94,138.75h3.5l-1.75,2.9z"/><path d="M181.66,138.06h3.5l-1.75,2.9z"/><path d="M182.43,138.55h3.5l-1.75,2.9z"/><path d="M182.96,145.39h3.5l-1.75,2.9z"/><path d="M183.48,139.49h3.5l-1.75,2.9z"/><path d="M183.59,137.92h3.5l-1.75,2.9z"/><path d="M184.11,141.85h3.5l-1.75,2.9z"/><path d="M184.72,144.42h3.5l-1.75,2.9z"/><path d="M185.63,144.15h3.5l-1.75,2.9z"/><path d="M186.78,146.06h3.5l-1.75,2.9z"/><path d="M187.27,144.74h3.5l-1.75,2.9z"/><path d="M187.33,149.44h3.5l-1.75,2.9z"/><path d="M188.59,145.47h3.5l-1.75,2.9z"/><path d="M188.42,144.35h3.5l-1.75,2.9z"/><path d="M189.66,144.87h3.5l-1.75,2.9z"/><path d="M189.78,149.99h3.5l-1.75,2.9z"/><path d="M190.86,147.55h3.5l-1.75,2.9z"/><path d="M191.27,148.02h3.5l-1.75,2.9z"/><path d="M191.61,143.15h3.5l-1.75,2.9z"/><path d="M192.2,150.58h3.5l-1.75,2.9z"/><path d="M192.66,146.75h3.5l-1.75,2.9z"/><path d="M193.24,151.39h3.5l-1.75,2.9z"/><path d="M194.3,151.74h3.5l-1.75,2.9z"/><path d="M195,153.1h3.5l-1.75,2.9z"/><path d="M195.17,149.73h3.5l-1.75,2.9z"/><path d="M196.28,154.97h3.5l-1.75,2.9z"/><path d="M196.68,147.47h3.5l-1.75,2.9z"/><path d="M197.23,154.89h3.5l-1.75,2.9z"/><path d="M197.38,149.98h3.5l-1.75,2.9z"/><path d="M198.33,153.57h3.5l-1.75,2.9z"/><path d="M198.93,158.94h3.5l-1.75,2.9z"/><path d="M199.08,156.64h3.5l-1.75,2.9z"/><path d="M200.22,152.4h3.5l-1.75,2.9z"/><path d="M200.38,160.62h3.5l-1.75,2.9z"/><path d="M201.35,156.19h3.5l-1.75,2.9z"/><path d="M201.99,152.62h3.5l-1.75,2.9z"/><path d="M202.08,155.15h3.5l-1.75,2.9z"/><path d="M202.81,157h3.5l-1.75,2.9z"/><path d="M204,157.23h3.5l-1.75,2.9z"/><path d="M203.65,155.03h3.5l-1.75,2.9z"/><path d="M204.77,152.56h3.5l-1.75,2.9z"/><path d="M205.17,155.68h3.5l-1.75,2.9z"/><path d="M205.96,161.38h3.5l-1.75,2.9z"/><path d="M206.71,159.04h3.5l-1.75,2.9z"/><path d="M207.13,161.93h3.5l-1.75,2.9z"/><path d="M207.71,159.06h3.5l-1.75,2.9z"/><path d="M208.28,156.41h3.5l-1.75,2.9z"/><path d="M209.11,158.81h3.5l-1.75,2.9z"/><path d="M209.25,160.32h3.5l-1.75,2.9z"/><path d="M209.79,161.3h3.5l-1.75,2.9z"/><path d="M210.68,165.42h3.5l-1.75,2.9z"/><path d="M210.87,163.36h3.5l-1.75,2.9z"/><path d="M211.92,161.97h3.5l-1.75,2.9z"/><path d="M212.17,159.91h3.5l-1.75,2.9z"/><path d="M213.28,163.71h3.5l-1.75,2.9z"/><path d="M213.68,163.27h3.5l-1.75,2.9z"/><path d="M214.12,162.31h3.5l-1.75,2.9z"/><path d="M214.82,167.82h3.5l-1.75,2.9z"/><path d="M215.8,164.2h3.5l-1.75,2.9z"/><path d="M215.51,165.14h3.5l-1.75,2.9z"/><path d="M216.33,161.85h3.5l-1.75,2.9z"/><path d="M217.45,164.95h3.5l-1.75,2.9z"/><path d="M217.6,166.49h3.5l-1.75,2.9z"/><path d="M218.34,164.91h3.5l-1.75,2.9z"/><path d="M218.42,163.7h3.5l-1.75,2.9z"/><path d="M219.14,166.67h3.5l-1.75,2.9z"/><path d="M219.9,164.16h3.5l-1.75,2.9z"/><path d="M220.43,163.7h3.5l-1.75,2.9z"/><path d="M220.95,168.22h3.5l-1.75,2.9z"/><path d="M222.15,165.93h3.5l-1.75,2.9z"/><path d="M222.69,166.21h3.5l-1.75,2.9z"/><path d="M223.24,166.94h3.5l-1.75,2.9z"/><path d="M223.17,165.68h3.5l-1.75,2.9z"/><path d="M223.94,166.32h3.5l-1.75,2.9z"/><path d="M225.03,169.59h3.5l-1.75,2.9z"/><path d="M225.79,168.09h3.5l-1.75,2.9z"/><path d="M225.72,168.96h3.5l-1.75,2.9z"/><path d="M226.54,169.18h3.5l-1.75,2.9z"/><path d="M227.5,168.33h3.5l-1.75,2.9z"/><path d="M228.27,170.02h3.5l-1.75,2.9z"/><path d="M228.1,169.55h3.5l-1.75,2.9z"/><path d="M228.62,168.94h3.5l-1.75,2.9z"/><path d="M230.02,168.03h3.5l-1.75,2.9z"/><path d="M230.08,170.22h3.5l-1.75,2.9z"/><path d="M231.07,168.98h3.5l-1.75,2.9z"/><path d="M231.01,168.84h3.5l-1.75,2.9z"/><path d="M231.78,171.05h3.5l-1.75,2.9z"/><path d="M232.9,170.72h3.5l-1.75,2.9z"/><path d="M233.48,171.4h3.5l-1.75,2.9z"/><path d="M233.43,170.86h3.5l-1.75,2.9z"/><path d="M234.52,170.34h3.5l-1.75,2.9z"/><path d="M234.45,170.08h3.5l-1.75,2.9z"/><path d="M235.82,171.24h3.5l-1.75,2.9z"/><path d="M235.67,173.02h3.5l-1.75,2.9z"/><path d="M236.21,172.4h3.5l-1.75,2.9z"/><path d="M237.36,173.86h3.5l-1.75,2.9z"/><path d="M238.21,170.42h3.5l-1.75,2.9z"/><path d="M237.96,172.24h3.5l-1.75,2.9z"/><path d="M239.23,172.59h3.5l-1.75,2.9z"/><path d="M239.79,172.55h3.5l-1.75,2.9z"/><path d="M240.41,172.35h3.5l-1.75,2.9z"/><path d="M240.6,173.56h3.5l-1.75,2.9z"/><path d="M241.46,172.33h3.5l-1.75,2.9z"/><path d="M241.74,173.89h3.5l-1.75,2.9z"/><path d="M242.38,172.82h3.5l-1.75,2.9z"/><path d="M242.99,173.62h3.5l-1.75,2.9z"/><path d="M243.86,173.57h3.5l-1.75,2.9z"/><path d="M244.71,173.91h3.5l-1.75,2.9z"/><path d="M244.93,173.54h3.5l-1.75,2.9z"/><path d="M245.94,174.88h3.5l-1.75,2.9z"/><path d="M246.39,174.28h3.5l-1.75,2.9z"/><path d="M246.93,175.3h3.5l-1.75,2.9z"/><path d="M247.33,175.39h3.5l-1.75,2.9z"/><path d="M247.92,175.36h3.5l-1.75,2.9z"/><path d="M248.48,174.25h3.5l-1.75,2.9z"/><path d="M249.39,175.93h3.5l-1.75,2.9z"/><path d="M250.09,175.16h3.5l-1.75,2.9z"/><path d="M250.09,175.06h3.5l-1.75,2.9z"/><path d="M250.41,175.02h3.5l-1.75,2.9z"/><path d="M251.26,174.97h3.5l-1.75,2.9z"/><path d="M251.75,176.66h3.5l-1.75,2.9z"/><path d="M252.84,174.42h3.5l-1.75,2.9z"/><path d="M253.44,176.96h3.5l-1.75,2.9z"/><path d="M253.74,175.86h3.5l-1.75,2.9z"/><path d="M254.48,176.94h3.5l-1.75,2.9z"/><path d="M255.44,174.04h3.5l-1.75,2.9z"/><path d="M255.95,178.09h3.5l-1.75,2.9z"/><path d="M256.68,175.71h3.5l-1.75,2.9z"/><path d="M256.84,176.14h3.5l-1.75,2.9z"/><path d="M257.75,177.34h3.5l-1.75,2.9z"/><path d="M258,176.76h3.5l-1.75,2.9z"/><path d="M259.07,176.46h3.5l-1.75,2.9z"/><path d="M258.68,176.96h3.5l-1.75,2.9z"/><path d="M259.9,176.52h3.5l-1.75,2.9z"/><path d="M259.96,176.46h3.5l-1.75,2.9z"/><path d="M260.88,179.27h3.5l-1.75,2.9z"/><path d="M261.8,178.24h3.5l-1.75,2.9z"/><path d="M261.8,178.55h3.5l-1.75,2.9z"/><path d="M262.69,178.32h3.5l-1.75,2.9z"/><path d="M263.03,176.71h3.5l-1.75,2.9z"/><path d="M263.85,178.71h3.5l-1.75,2.9z"/><path d="M264.58,178.83h3.5l-1.75,2.9z"/><path d="M265.22,178.39h3.5l-1.75,2.9z"/><path d="M265.84,177.66h3.5l-1.75,2.9z"/><path d="M265.99,178.34h3.5l-1.75,2.9z"/><path d="M266.7,177.17h3.5l-1.75,2.9z"/><path d="M267.92,177.99h3.5l-1.75,2.9z"/><path d="M268.19,179.17h3.5l-1.75,2.9z"/><path d="M268.41,179.06h3.5l-1.75,2.9z"/></g>
<g fill="#46c0e4"><circle cx="70.4" cy="51.64" r="1.45"/><circle cx="74.12" cy="57.12" r="1.45"/><circle cx="77.84" cy="58.83" r="1.45"/><circle cx="81.57" cy="62.54" r="1.45"/><circle cx="85.29" cy="62.59" r="1.45"/><circle cx="89.01" cy="67.39" r="1.45"/><circle cx="92.73" cy="69.87" r="1.45"/><circle cx="94.43" cy="70.78" r="1.45"/><circle cx="96.12" cy="71.74" r="1.45"/><circle cx="97.81" cy="74.38" r="1.45"/><circle cx="99.5" cy="84.09" r="1.45"/><circle cx="101.19" cy="75.85" r="1.45"/><circle cx="102.89" cy="79.66" r="1.45"/><circle cx="104.58" cy="77.36" r="1.45"/><circle cx="106.27" cy="79.99" r="1.45"/><circle cx="107.96" cy="84.23" r="1.45"/><circle cx="109.65" cy="86.7" r="1.45"/><circle cx="111.35" cy="88.39" r="1.45"/><circle cx="113.1" cy="85.13" r="1.45"/><circle cx="114.61" cy="87.75" r="1.45"/><circle cx="116.64" cy="87.43" r="1.45"/><circle cx="117.8" cy="92.22" r="1.45"/><circle cx="119.55" cy="100.19" r="1.45"/><circle cx="121.28" cy="92.12" r="1.45"/><circle cx="122.08" cy="88.66" r="1.45"/><circle cx="123.22" cy="96.47" r="1.45"/><circle cx="124.89" cy="94.44" r="1.45"/><circle cx="125.76" cy="92.58" r="1.45"/><circle cx="126.7" cy="91.1" r="1.45"/><circle cx="127.47" cy="97.6" r="1.45"/><circle cx="128.16" cy="98.52" r="1.45"/><circle cx="129.61" cy="102.4" r="1.45"/><circle cx="130.18" cy="102.39" r="1.45"/><circle cx="131.18" cy="97.16" r="1.45"/><circle cx="132.5" cy="97.44" r="1.45"/><circle cx="133.33" cy="101.86" r="1.45"/><circle cx="134.38" cy="108.66" r="1.45"/><circle cx="135.71" cy="107.22" r="1.45"/><circle cx="136.79" cy="109.69" r="1.45"/><circle cx="137.48" cy="104.61" r="1.45"/><circle cx="138.33" cy="103.39" r="1.45"/><circle cx="140.14" cy="101.11" r="1.45"/><circle cx="140.75" cy="104.88" r="1.45"/><circle cx="142.15" cy="107.42" r="1.45"/><circle cx="143.08" cy="112.87" r="1.45"/><circle cx="144.06" cy="113.41" r="1.45"/><circle cx="144.5" cy="104.22" r="1.45"/><circle cx="145.53" cy="109.09" r="1.45"/><circle cx="147.26" cy="111.15" r="1.45"/><circle cx="147.77" cy="112.58" r="1.45"/><circle cx="149.26" cy="112.67" r="1.45"/><circle cx="150.03" cy="113.85" r="1.45"/><circle cx="150.55" cy="114.39" r="1.45"/><circle cx="151.74" cy="116.51" r="1.45"/><circle cx="152.67" cy="116.23" r="1.45"/><circle cx="154.13" cy="116.09" r="1.45"/><circle cx="155.04" cy="117.44" r="1.45"/><circle cx="155.89" cy="117.46" r="1.45"/><circle cx="157.04" cy="117.47" r="1.45"/><circle cx="157.93" cy="117.31" r="1.45"/><circle cx="159.18" cy="122.7" r="1.45"/><circle cx="159.77" cy="122.39" r="1.45"/><circle cx="161.48" cy="123.6" r="1.45"/><circle cx="162.19" cy="123.83" r="1.45"/><circle cx="163.56" cy="128.52" r="1.45"/><circle cx="163.77" cy="123.39" r="1.45"/><circle cx="165.02" cy="131.04" r="1.45"/><circle cx="166.37" cy="124.31" r="1.45"/><circle cx="166.97" cy="128.02" r="1.45"/><circle cx="167.99" cy="130.33" r="1.45"/><circle cx="169.41" cy="130.7" r="1.45"/><circle cx="170.65" cy="137.67" r="1.45"/><circle cx="171.6" cy="131.2" r="1.45"/><circle cx="172.52" cy="130.31" r="1.45"/><circle cx="173.51" cy="127.09" r="1.45"/><circle cx="174.65" cy="129.08" r="1.45"/><circle cx="175.76" cy="139.29" r="1.45"/><circle cx="176.72" cy="133.64" r="1.45"/><circle cx="177.83" cy="144.45" r="1.45"/><circle cx="178.69" cy="142.37" r="1.45"/><circle cx="179.01" cy="144.75" r="1.45"/><circle cx="180.28" cy="147.97" r="1.45"/><circle cx="181.25" cy="143.09" r="1.45"/><circle cx="181.13" cy="142.7" r="1.45"/><circle cx="181.98" cy="144.4" r="1.45"/><circle cx="182.86" cy="145.03" r="1.45"/><circle cx="183.7" cy="142.38" r="1.45"/><circle cx="184.42" cy="140.91" r="1.45"/><circle cx="184.72" cy="145" r="1.45"/><circle cx="184.81" cy="142.26" r="1.45"/><circle cx="185.77" cy="144.62" r="1.45"/><circle cx="186.14" cy="148.11" r="1.45"/><circle cx="186.4" cy="146.81" r="1.45"/><circle cx="187.31" cy="147.32" r="1.45"/><circle cx="188.22" cy="149.18" r="1.45"/><circle cx="188.24" cy="138.74" r="1.45"/><circle cx="189.24" cy="148.89" r="1.45"/><circle cx="190.08" cy="150.93" r="1.45"/><circle cx="190.37" cy="144.83" r="1.45"/><circle cx="190.86" cy="154.95" r="1.45"/><circle cx="191.87" cy="151.92" r="1.45"/><circle cx="192.19" cy="148.76" r="1.45"/><circle cx="193.1" cy="151.29" r="1.45"/><circle cx="193.88" cy="152.51" r="1.45"/><circle cx="193.66" cy="150.24" r="1.45"/><circle cx="194.13" cy="148.06" r="1.45"/><circle cx="195.42" cy="153.62" r="1.45"/><circle cx="195.85" cy="151.6" r="1.45"/><circle cx="195.93" cy="156.08" r="1.45"/><circle cx="196.56" cy="159.44" r="1.45"/><circle cx="197.88" cy="150.76" r="1.45"/><circle cx="198.33" cy="153.33" r="1.45"/><circle cx="198.61" cy="159.17" r="1.45"/><circle cx="198.94" cy="156.19" r="1.45"/><circle cx="199.65" cy="155.45" r="1.45"/><circle cx="200.04" cy="155.9" r="1.45"/><circle cx="201.14" cy="155.36" r="1.45"/><circle cx="201.33" cy="155.46" r="1.45"/><circle cx="202.14" cy="160.09" r="1.45"/><circle cx="202.5" cy="159.58" r="1.45"/><circle cx="203.86" cy="159.09" r="1.45"/><circle cx="204.12" cy="160.92" r="1.45"/><circle cx="204.84" cy="161.94" r="1.45"/><circle cx="205.73" cy="160.6" r="1.45"/><circle cx="205.98" cy="159.67" r="1.45"/><circle cx="206.41" cy="155.59" r="1.45"/><circle cx="206.79" cy="157.16" r="1.45"/><circle cx="207.72" cy="159.76" r="1.45"/><circle cx="207.77" cy="162.73" r="1.45"/><circle cx="208.44" cy="160.81" r="1.45"/><circle cx="209.89" cy="163.37" r="1.45"/><circle cx="210.28" cy="163.24" r="1.45"/><circle cx="210.59" cy="162.31" r="1.45"/><circle cx="211.48" cy="160.16" r="1.45"/><circle cx="211.75" cy="165.79" r="1.45"/><circle cx="212.26" cy="160.39" r="1.45"/><circle cx="213.45" cy="164.8" r="1.45"/><circle cx="213.09" cy="163.19" r="1.45"/><circle cx="214.31" cy="164.22" r="1.45"/><circle cx="214.38" cy="163.51" r="1.45"/><circle cx="215.42" cy="163.14" r="1.45"/><circle cx="216.18" cy="163.05" r="1.45"/><circle cx="216.37" cy="165.92" r="1.45"/><circle cx="217.48" cy="164.48" r="1.45"/><circle cx="218.07" cy="165.13" r="1.45"/><circle cx="218.26" cy="165.21" r="1.45"/><circle cx="219.26" cy="165.15" r="1.45"/><circle cx="219.71" cy="165.37" r="1.45"/><circle cx="219.77" cy="164.24" r="1.45"/><circle cx="220.6" cy="165.63" r="1.45"/><circle cx="221.68" cy="167.05" r="1.45"/><circle cx="221.67" cy="167.22" r="1.45"/><circle cx="222.04" cy="165.8" r="1.45"/><circle cx="222.56" cy="165.68" r="1.45"/><circle cx="224.01" cy="168.48" r="1.45"/><circle cx="224.49" cy="169.02" r="1.45"/><circle cx="224.9" cy="168" r="1.45"/><circle cx="225.36" cy="167.98" r="1.45"/><circle cx="225.69" cy="169.37" r="1.45"/><circle cx="226.71" cy="166.34" r="1.45"/><circle cx="227.61" cy="166.7" r="1.45"/><circle cx="227.87" cy="168.08" r="1.45"/><circle cx="228.75" cy="170.17" r="1.45"/><circle cx="229.24" cy="168.09" r="1.45"/><circle cx="229.17" cy="168.65" r="1.45"/><circle cx="230.17" cy="169.77" r="1.45"/><circle cx="230.47" cy="168.35" r="1.45"/><circle cx="231.36" cy="171.13" r="1.45"/><circle cx="232.15" cy="170.97" r="1.45"/><circle cx="232.75" cy="170.4" r="1.45"/><circle cx="233.28" cy="171.68" r="1.45"/><circle cx="233.91" cy="170.52" r="1.45"/><circle cx="233.87" cy="172.05" r="1.45"/><circle cx="234.53" cy="171.7" r="1.45"/><circle cx="235.6" cy="171.52" r="1.45"/><circle cx="235.91" cy="173.19" r="1.45"/><circle cx="237.11" cy="172.83" r="1.45"/><circle cx="237.34" cy="172.24" r="1.45"/><circle cx="237.92" cy="171.89" r="1.45"/><circle cx="238.53" cy="172.06" r="1.45"/><circle cx="239.38" cy="173.14" r="1.45"/><circle cx="240.07" cy="174.72" r="1.45"/><circle cx="240.07" cy="174.71" r="1.45"/><circle cx="240.69" cy="173.03" r="1.45"/><circle cx="241.23" cy="174.74" r="1.45"/><circle cx="241.82" cy="173.02" r="1.45"/><circle cx="242.74" cy="173.19" r="1.45"/><circle cx="243.5" cy="175.56" r="1.45"/><circle cx="243.5" cy="175.34" r="1.45"/><circle cx="244.15" cy="173.64" r="1.45"/><circle cx="245.35" cy="173.31" r="1.45"/><circle cx="245.32" cy="173.78" r="1.45"/><circle cx="245.76" cy="175.18" r="1.45"/><circle cx="246.84" cy="174.67" r="1.45"/><circle cx="247.05" cy="174.81" r="1.45"/><circle cx="248.15" cy="175.46" r="1.45"/><circle cx="248.34" cy="175.07" r="1.45"/><circle cx="249.05" cy="173.65" r="1.45"/><circle cx="249.59" cy="175.37" r="1.45"/><circle cx="250.04" cy="175.01" r="1.45"/><circle cx="250.99" cy="175.87" r="1.45"/><circle cx="251.75" cy="176.18" r="1.45"/><circle cx="251.66" cy="176.36" r="1.45"/><circle cx="252.21" cy="175.69" r="1.45"/><circle cx="252.74" cy="176.01" r="1.45"/><circle cx="253.77" cy="177.64" r="1.45"/><circle cx="253.94" cy="177.22" r="1.45"/><circle cx="254.92" cy="177.16" r="1.45"/><circle cx="255.45" cy="178.29" r="1.45"/><circle cx="256.6" cy="175.03" r="1.45"/><circle cx="256.4" cy="176.28" r="1.45"/><circle cx="257.67" cy="178.06" r="1.45"/><circle cx="257.56" cy="176.35" r="1.45"/><circle cx="258.14" cy="176.83" r="1.45"/><circle cx="259.63" cy="178.01" r="1.45"/><circle cx="259.81" cy="177.41" r="1.45"/><circle cx="260.58" cy="176.01" r="1.45"/><circle cx="261.06" cy="179.29" r="1.45"/><circle cx="261.68" cy="179.6" r="1.45"/><circle cx="261.76" cy="177.92" r="1.45"/><circle cx="262.71" cy="179.22" r="1.45"/><circle cx="263.5" cy="178.6" r="1.45"/><circle cx="264.17" cy="178.99" r="1.45"/><circle cx="264.8" cy="179.76" r="1.45"/><circle cx="264.61" cy="178.38" r="1.45"/><circle cx="265.32" cy="178.64" r="1.45"/><circle cx="266.19" cy="178.29" r="1.45"/><circle cx="266.81" cy="179.36" r="1.45"/><circle cx="267.71" cy="179.96" r="1.45"/><circle cx="267.86" cy="179.7" r="1.45"/><circle cx="268.12" cy="178.62" r="1.45"/><circle cx="269.26" cy="181" r="1.45"/><circle cx="269.37" cy="178.23" r="1.45"/><circle cx="270.16" cy="178.88" r="1.45"/></g>
<circle cx="248.91" cy="160.3" r="1.35" fill="#e3342b"/>
<path d="M247.31,169.6h3.2l-1.6,2.7z" fill="#1f4e9c"/>
<line x1="248.91" y1="169.9" x2="248.91" y2="176.8" stroke="#4a7fb8" stroke-width="1.2" />
<circle cx="261.6" cy="160.3" r="1.35" fill="#e3342b"/>
<path d="M260,169.6h3.2l-1.6,2.7z" fill="#1f4e9c"/>
<line x1="261.6" y1="169.9" x2="261.6" y2="176.8" stroke="#4a7fb8" stroke-width="1.2" />
<line x1="85.4" y1="92" x2="212.9" y2="182.3" stroke="#555" stroke-width="1.05" stroke-dasharray="2.9,2.9"/>
<text x="168" y="174.2" font-size="12.5" text-anchor="start" fill="#474747" >1/<tspan font-style="italic">f</tspan></text>
<path d="M390.7,16.2 L390.7,196 L611.6,196" fill="none" stroke="#8c8c8c" stroke-width="1"/>
<line x1="390.7" y1="16.2" x2="611.6" y2="16.2" stroke="#8c8c8c" stroke-width="1" />
<line x1="611.6" y1="16.2" x2="611.6" y2="196" stroke="#8c8c8c" stroke-width="1" />
<line x1="390.7" y1="196.2" x2="387.7" y2="196.2" stroke="#8c8c8c" stroke-width="1" />
<text x="384.6" y="200" font-size="10.5" text-anchor="end" fill="#474747">10<tspan font-size="8.2" dy="-4.5">&#8722;9</tspan></text>
<line x1="390.7" y1="178.14" x2="389.1" y2="178.14" stroke="#8c8c8c" stroke-width="1" />
<line x1="390.7" y1="167.57" x2="389.1" y2="167.57" stroke="#8c8c8c" stroke-width="1" />
<line x1="390.7" y1="160.08" x2="389.1" y2="160.08" stroke="#8c8c8c" stroke-width="1" />
<line x1="390.7" y1="154.26" x2="389.1" y2="154.26" stroke="#8c8c8c" stroke-width="1" />
<line x1="390.7" y1="149.51" x2="389.1" y2="149.51" stroke="#8c8c8c" stroke-width="1" />
<line x1="390.7" y1="145.49" x2="389.1" y2="145.49" stroke="#8c8c8c" stroke-width="1" />
<line x1="390.7" y1="142.01" x2="389.1" y2="142.01" stroke="#8c8c8c" stroke-width="1" />
<line x1="390.7" y1="138.95" x2="389.1" y2="138.95" stroke="#8c8c8c" stroke-width="1" />
<line x1="390.7" y1="136.2" x2="387.7" y2="136.2" stroke="#8c8c8c" stroke-width="1" />
<text x="384.6" y="140" font-size="10.5" text-anchor="end" fill="#474747">10<tspan font-size="8.2" dy="-4.5">&#8722;8</tspan></text>
<line x1="390.7" y1="118.14" x2="389.1" y2="118.14" stroke="#8c8c8c" stroke-width="1" />
<line x1="390.7" y1="107.57" x2="389.1" y2="107.57" stroke="#8c8c8c" stroke-width="1" />
<line x1="390.7" y1="100.08" x2="389.1" y2="100.08" stroke="#8c8c8c" stroke-width="1" />
<line x1="390.7" y1="94.26" x2="389.1" y2="94.26" stroke="#8c8c8c" stroke-width="1" />
<line x1="390.7" y1="89.51" x2="389.1" y2="89.51" stroke="#8c8c8c" stroke-width="1" />
<line x1="390.7" y1="85.49" x2="389.1" y2="85.49" stroke="#8c8c8c" stroke-width="1" />
<line x1="390.7" y1="82.01" x2="389.1" y2="82.01" stroke="#8c8c8c" stroke-width="1" />
<line x1="390.7" y1="78.95" x2="389.1" y2="78.95" stroke="#8c8c8c" stroke-width="1" />
<line x1="390.7" y1="76.2" x2="387.7" y2="76.2" stroke="#8c8c8c" stroke-width="1" />
<text x="384.6" y="80" font-size="10.5" text-anchor="end" fill="#474747">10<tspan font-size="8.2" dy="-4.5">&#8722;7</tspan></text>
<line x1="390.7" y1="58.14" x2="389.1" y2="58.14" stroke="#8c8c8c" stroke-width="1" />
<line x1="390.7" y1="47.57" x2="389.1" y2="47.57" stroke="#8c8c8c" stroke-width="1" />
<line x1="390.7" y1="40.08" x2="389.1" y2="40.08" stroke="#8c8c8c" stroke-width="1" />
<line x1="390.7" y1="34.26" x2="389.1" y2="34.26" stroke="#8c8c8c" stroke-width="1" />
<line x1="390.7" y1="29.51" x2="389.1" y2="29.51" stroke="#8c8c8c" stroke-width="1" />
<line x1="390.7" y1="25.49" x2="389.1" y2="25.49" stroke="#8c8c8c" stroke-width="1" />
<line x1="390.7" y1="22.01" x2="389.1" y2="22.01" stroke="#8c8c8c" stroke-width="1" />
<line x1="390.7" y1="18.95" x2="389.1" y2="18.95" stroke="#8c8c8c" stroke-width="1" />
<line x1="390.7" y1="16.2" x2="387.7" y2="16.2" stroke="#8c8c8c" stroke-width="1" />
<text x="384.6" y="21.8" font-size="10.5" text-anchor="end" fill="#474747">10<tspan font-size="8.2" dy="-4.5">&#8722;6</tspan></text>
<line x1="397.95" y1="196" x2="397.95" y2="197.6" stroke="#8c8c8c" stroke-width="1" />
<line x1="413.2" y1="196" x2="413.2" y2="199" stroke="#8c8c8c" stroke-width="1" />
<text x="410.7" y="210.2" font-size="10.8" text-anchor="middle" fill="#474747" >&#8722;60</text>
<line x1="428.45" y1="196" x2="428.45" y2="197.6" stroke="#8c8c8c" stroke-width="1" />
<line x1="443.7" y1="196" x2="443.7" y2="199" stroke="#8c8c8c" stroke-width="1" />
<text x="441.2" y="210.2" font-size="10.8" text-anchor="middle" fill="#474747" >&#8722;40</text>
<line x1="458.95" y1="196" x2="458.95" y2="197.6" stroke="#8c8c8c" stroke-width="1" />
<line x1="474.2" y1="196" x2="474.2" y2="199" stroke="#8c8c8c" stroke-width="1" />
<text x="471.7" y="210.2" font-size="10.8" text-anchor="middle" fill="#474747" >&#8722;20</text>
<line x1="489.45" y1="196" x2="489.45" y2="197.6" stroke="#8c8c8c" stroke-width="1" />
<line x1="504.7" y1="196" x2="504.7" y2="199" stroke="#8c8c8c" stroke-width="1" />
<text x="504.7" y="210.2" font-size="10.8" text-anchor="middle" fill="#474747" >0</text>
<line x1="519.95" y1="196" x2="519.95" y2="197.6" stroke="#8c8c8c" stroke-width="1" />
<line x1="535.2" y1="196" x2="535.2" y2="199" stroke="#8c8c8c" stroke-width="1" />
<text x="535.2" y="210.2" font-size="10.8" text-anchor="middle" fill="#474747" >20</text>
<line x1="550.45" y1="196" x2="550.45" y2="197.6" stroke="#8c8c8c" stroke-width="1" />
<line x1="565.7" y1="196" x2="565.7" y2="199" stroke="#8c8c8c" stroke-width="1" />
<text x="565.7" y="210.2" font-size="10.8" text-anchor="middle" fill="#474747" >40</text>
<line x1="580.95" y1="196" x2="580.95" y2="197.6" stroke="#8c8c8c" stroke-width="1" />
<line x1="596.2" y1="196" x2="596.2" y2="199" stroke="#8c8c8c" stroke-width="1" />
<text x="596.2" y="210.2" font-size="10.8" text-anchor="middle" fill="#474747" >60</text>
<line x1="611.45" y1="196" x2="611.45" y2="197.6" stroke="#8c8c8c" stroke-width="1" />
<line x1="391.2" y1="76.2" x2="611.1" y2="76.2" stroke="#749cba" stroke-width="1" stroke-dasharray="3.8,2.8"/>
<line x1="391.2" y1="136.2" x2="611.1" y2="136.2" stroke="#749cba" stroke-width="1" stroke-dasharray="3.8,2.8"/>
<text x="600.7" y="29.9" font-size="11.3" text-anchor="end" fill="#474747" ><tspan font-style="italic">f</tspan> = 10 Hz</text>
<text x="502" y="227.2" font-size="11.0" text-anchor="middle" fill="#474747" ><tspan font-style="italic">V</tspan><tspan font-size="8" dy="2.8">G</tspan><tspan dy="-2.8"> (V)</tspan></text>
<text transform="translate(353.5,107.3) rotate(-90)" font-size="11.7" text-anchor="middle" fill="#474747"><tspan font-style="italic">S</tspan><tspan font-size="8" font-style="italic" dy="2.8">I</tspan><tspan dy="-2.8">/</tspan><tspan font-style="italic">I</tspan><tspan font-size="8" dy="-4.5">2</tspan><tspan dy="4.5"> &#215; </tspan><tspan font-style="italic">W</tspan> &#215; <tspan font-style="italic">L</tspan> (&#956;m<tspan font-size="8" dy="-4.5">2</tspan><tspan dy="4.5"> H</tspan><tspan font-size="8" dy="-4.5">&#8722;1</tspan><tspan dy="4.5">)</tspan></text>
<text x="332.3" y="12.4" font-size="12" font-weight="bold" fill="#111">b</text>
<circle cx="409.8" cy="109.6" r="2.3" fill="#1b72b8"/>
<circle cx="428.9" cy="106.8" r="2.3" fill="#1b72b8"/>
<circle cx="444.1" cy="105.4" r="2.3" fill="#1b72b8"/>
<circle cx="444.1" cy="107.4" r="2.3" fill="#e2392f"/>
<circle cx="459.3" cy="101.8" r="2.3" fill="#1b72b8"/>
<circle cx="459.3" cy="103.2" r="2.3" fill="#e2392f"/>
<circle cx="474.5" cy="100.6" r="2.3" fill="#1b72b8"/>
<path d="M474.5,96 L476.9,100.49 L472.1,100.49 Z" fill="#1b72b8"/>
<path d="M474.5,106.2 L476.9,110.69 L472.1,110.69 Z" fill="#111"/>
<circle cx="485.3" cy="94.6" r="2.3" fill="#77b947"/>
<circle cx="489.7" cy="100.4" r="2.3" fill="#1b72b8"/>
<path d="M489.7,95.8 L492.1,100.29 L487.3,100.29 Z" fill="#1b72b8"/>
<path d="M489.7,104.8 L492.1,109.29 L487.3,109.29 Z" fill="#111"/>
<circle cx="489.7" cy="112.9" r="2.3" fill="#e2392f"/>
<circle cx="497.3" cy="102.2" r="2.3" fill="#1b72b8"/>
<circle cx="500.3" cy="105.1" r="2.3" fill="#77b947"/>
<path d="M504.9,82.3 L507.3,86.79 L502.5,86.79 Z" fill="#1b72b8"/>
<path d="M504.9,86.2 L507.3,90.69 L502.5,90.69 Z" fill="#9860a8"/>
<circle cx="504.9" cy="95.2" r="2.3" fill="#9860a8"/>
<circle cx="504.9" cy="99.9" r="2.3" fill="#b070c0"/>
<circle cx="504.9" cy="103.4" r="2.3" fill="#1b72b8"/>
<rect x="502.8" y="105.7" width="4.2" height="4.2" fill="#111"/>
<path d="M504.9,112.8 L507.3,108.31 L502.5,108.31 Z" fill="#111"/>
<circle cx="504.9" cy="133.2" r="2.3" fill="#e2392f"/>
<circle cx="512.5" cy="80.4" r="2.3" fill="#1b72b8"/>
<rect x="510.4" y="97.5" width="4.2" height="4.2" fill="#1b72b8"/>
<circle cx="515.5" cy="98.6" r="2.3" fill="#77b947"/>
<rect x="512.9" y="90.6" width="4.2" height="4.2" fill="#1b72b8"/>
<path d="M520.3,87.1 L522.7,91.59 L517.9,91.59 Z" fill="#9860a8"/>
<circle cx="520.3" cy="94.6" r="2.3" fill="#1b72b8"/>
<circle cx="520.3" cy="97.1" r="2.3" fill="#1b72b8"/>
<path d="M520.3,109.6 L522.7,105.11 L517.9,105.11 Z" fill="#111"/>
<rect x="518.2" y="112.1" width="4.2" height="4.2" fill="#111"/>
<circle cx="520.3" cy="119.3" r="2.3" fill="#e2392f"/>
<path d="M528.3,93.7 L530.7,98.19 L525.9,98.19 Z" fill="#1b72b8"/>
<rect x="526.2" y="100.7" width="4.2" height="4.2" fill="#1b72b8"/>
<circle cx="530.8" cy="90.8" r="2.3" fill="#77b947"/>
<path d="M535.3,78.9 L537.7,83.39 L532.9,83.39 Z" fill="#9860a8"/>
<path d="M535.3,94.7 L537.7,99.19 L532.9,99.19 Z" fill="#1b72b8"/>
<circle cx="535.3" cy="99.9" r="2.3" fill="#1b72b8"/>
<rect x="533.2" y="102" width="4.2" height="4.2" fill="#1b72b8"/>
<circle cx="535.3" cy="112.9" r="2.3" fill="#e2392f"/>
<rect x="533.2" y="118.4" width="4.2" height="4.2" fill="#111"/>
<path d="M535.3,129 L537.7,124.51 L532.9,124.51 Z" fill="#111"/>
<circle cx="546" cy="89.5" r="2.3" fill="#77b947"/>
<circle cx="550.5" cy="102.2" r="2.3" fill="#1b72b8"/>
<circle cx="550.5" cy="104.1" r="2.3" fill="#e2392f"/>
<rect x="548.4" y="104.5" width="4.2" height="4.2" fill="#111"/>
<path d="M550.5,140.8 L552.9,136.31 L548.1,136.31 Z" fill="#111"/>
<circle cx="565.7" cy="92.7" r="2.3" fill="#1b72b8"/>
<circle cx="565.7" cy="97.7" r="2.3" fill="#e2392f"/>
<rect x="563.6" y="100.1" width="4.2" height="4.2" fill="#111"/>
<rect x="563.6" y="102" width="4.2" height="4.2" fill="#1b72b8"/>
<path d="M565.7,140.6 L568.1,136.11 L563.3,136.11 Z" fill="#111"/>
<polygon points="565.7,133.7 566.33,135.23 567.98,135.36 566.73,136.43 567.11,138.04 565.7,137.18 564.29,138.04 564.67,136.43 563.42,135.36 565.07,135.23" fill="#111"/>
<circle cx="581" cy="98.4" r="2.3" fill="#1b72b8"/>
<rect x="578.9" y="98.8" width="4.2" height="4.2" fill="#1b72b8"/>
<path d="M581,136.6 L583.4,132.11 L578.6,132.11 Z" fill="#111"/>
<path d="M581,129.5 L583.4,133.99 L578.6,133.99 Z" fill="#111"/>
<circle cx="596.7" cy="98.4" r="2.3" fill="#1b72b8"/>
<rect x="597.1" y="96.9" width="4.2" height="4.2" fill="#1b72b8"/>
<path d="M596.7,102.3 L599.1,106.79 L594.3,106.79 Z" fill="#1b72b8"/>
<path d="M596.7,124.2 L599.1,119.71 L594.3,119.71 Z" fill="#111"/>
<polygon points="596.7,125.7 597.33,127.23 598.98,127.36 597.73,128.43 598.11,130.04 596.7,129.18 595.29,130.04 595.67,128.43 594.42,127.36 596.07,127.23" fill="#111"/>
<path d="M66.2,249 L66.2,420 L276.1,420" fill="none" stroke="#8c8c8c" stroke-width="1"/>
<line x1="66.2" y1="249" x2="276.1" y2="249" stroke="#8c8c8c" stroke-width="1" />
<line x1="276.1" y1="249" x2="276.1" y2="420" stroke="#8c8c8c" stroke-width="1" />
<line x1="66.2" y1="413.3" x2="63.2" y2="413.3" stroke="#8c8c8c" stroke-width="1" />
<line x1="66.2" y1="261.2" x2="63.2" y2="261.2" stroke="#8c8c8c" stroke-width="1" />
<line x1="66.2" y1="367.51" x2="64.6" y2="367.51" stroke="#8c8c8c" stroke-width="1" />
<line x1="66.2" y1="340.73" x2="64.6" y2="340.73" stroke="#8c8c8c" stroke-width="1" />
<line x1="66.2" y1="321.73" x2="64.6" y2="321.73" stroke="#8c8c8c" stroke-width="1" />
<line x1="66.2" y1="306.99" x2="64.6" y2="306.99" stroke="#8c8c8c" stroke-width="1" />
<line x1="66.2" y1="294.94" x2="64.6" y2="294.94" stroke="#8c8c8c" stroke-width="1" />
<line x1="66.2" y1="284.76" x2="64.6" y2="284.76" stroke="#8c8c8c" stroke-width="1" />
<line x1="66.2" y1="275.94" x2="64.6" y2="275.94" stroke="#8c8c8c" stroke-width="1" />
<line x1="66.2" y1="268.16" x2="64.6" y2="268.16" stroke="#8c8c8c" stroke-width="1" />
<text x="60.4" y="264.9" font-size="10.8" text-anchor="end" fill="#474747" >10</text>
<text x="60.4" y="417" font-size="10.8" text-anchor="end" fill="#474747" >1</text>
<line x1="276.1" y1="409.1" x2="278.1" y2="409.1" stroke="#8c8c8c" stroke-width="1" />
<text x="280.2" y="413" font-size="11.1" text-anchor="start" fill="#474747" >3</text>
<line x1="276.1" y1="368.12" x2="278.1" y2="368.12" stroke="#8c8c8c" stroke-width="1" />
<text x="280.2" y="372.02" font-size="11.1" text-anchor="start" fill="#474747" >4</text>
<line x1="276.1" y1="336.33" x2="278.1" y2="336.33" stroke="#8c8c8c" stroke-width="1" />
<text x="280.2" y="340.23" font-size="11.1" text-anchor="start" fill="#474747" >5</text>
<line x1="276.1" y1="310.36" x2="278.1" y2="310.36" stroke="#8c8c8c" stroke-width="1" />
<text x="280.2" y="314.26" font-size="11.1" text-anchor="start" fill="#474747" >6</text>
<line x1="276.1" y1="288.4" x2="278.1" y2="288.4" stroke="#8c8c8c" stroke-width="1" />
<text x="280.2" y="292.3" font-size="11.1" text-anchor="start" fill="#474747" >7</text>
<line x1="276.1" y1="269.38" x2="278.1" y2="269.38" stroke="#8c8c8c" stroke-width="1" />
<text x="280.2" y="273.28" font-size="11.1" text-anchor="start" fill="#474747" >8</text>
<line x1="276.1" y1="252.6" x2="278.1" y2="252.6" stroke="#8c8c8c" stroke-width="1" />
<text x="280.2" y="256.5" font-size="11.1" text-anchor="start" fill="#474747" >9</text>
<line x1="72.3" y1="420" x2="72.3" y2="423" stroke="#8c8c8c" stroke-width="1" />
<text x="69.8" y="434.3" font-size="10.8" text-anchor="middle" fill="#474747" >&#8722;15</text>
<line x1="88.8" y1="420" x2="88.8" y2="421.6" stroke="#8c8c8c" stroke-width="1" />
<line x1="105.3" y1="420" x2="105.3" y2="423" stroke="#8c8c8c" stroke-width="1" />
<text x="102.8" y="434.3" font-size="10.8" text-anchor="middle" fill="#474747" >&#8722;10</text>
<line x1="121.8" y1="420" x2="121.8" y2="421.6" stroke="#8c8c8c" stroke-width="1" />
<line x1="138.3" y1="420" x2="138.3" y2="423" stroke="#8c8c8c" stroke-width="1" />
<text x="135.8" y="434.3" font-size="10.8" text-anchor="middle" fill="#474747" >&#8722;5</text>
<line x1="154.8" y1="420" x2="154.8" y2="421.6" stroke="#8c8c8c" stroke-width="1" />
<line x1="171.3" y1="420" x2="171.3" y2="423" stroke="#8c8c8c" stroke-width="1" />
<text x="171.3" y="434.3" font-size="10.8" text-anchor="middle" fill="#474747" >0</text>
<line x1="187.8" y1="420" x2="187.8" y2="421.6" stroke="#8c8c8c" stroke-width="1" />
<line x1="204.3" y1="420" x2="204.3" y2="423" stroke="#8c8c8c" stroke-width="1" />
<text x="204.3" y="434.3" font-size="10.8" text-anchor="middle" fill="#474747" >5</text>
<line x1="220.8" y1="420" x2="220.8" y2="421.6" stroke="#8c8c8c" stroke-width="1" />
<line x1="237.3" y1="420" x2="237.3" y2="423" stroke="#8c8c8c" stroke-width="1" />
<text x="237.3" y="434.3" font-size="10.8" text-anchor="middle" fill="#474747" >10</text>
<line x1="253.8" y1="420" x2="253.8" y2="421.6" stroke="#8c8c8c" stroke-width="1" />
<line x1="270.3" y1="420" x2="270.3" y2="423" stroke="#8c8c8c" stroke-width="1" />
<text x="270.3" y="434.3" font-size="10.8" text-anchor="middle" fill="#474747" >15</text>
<text x="171.3" y="447.5" font-size="11.0" text-anchor="middle" fill="#474747" >Gate bias <tspan font-style="italic">V</tspan><tspan font-size="8" dy="2.8">G</tspan><tspan dy="-2.8"> - </tspan><tspan font-style="italic">V</tspan><tspan font-size="8" dy="2.8">D</tspan><tspan dy="-2.8"> (V)</tspan></text>
<text transform="translate(41.6,334.2) rotate(-90)" font-size="11.7" text-anchor="middle" fill="#474747">Noise amplitude (&#215;10<tspan font-size="8" dy="-4.5">&#8722;8</tspan><tspan dy="4.5">)</tspan></text>
<text transform="translate(293.5,334.5) rotate(90)" font-size="11.3" text-anchor="middle" fill="#474747">Resistance (k&#937;)</text>
<text x="2.6" y="245.4" font-size="12" font-weight="bold" fill="#111">c</text>
<circle cx="102" cy="397.3" r="3.3" fill="#e63b2f"/>
<circle cx="111.9" cy="382.6" r="3.3" fill="#e63b2f"/>
<circle cx="121.8" cy="365.4" r="3.3" fill="#e63b2f"/>
<circle cx="131.7" cy="345.1" r="3.3" fill="#e63b2f"/>
<circle cx="141.6" cy="322.6" r="3.3" fill="#e63b2f"/>
<circle cx="151.5" cy="302.6" r="3.3" fill="#e63b2f"/>
<circle cx="161.4" cy="290" r="3.3" fill="#e63b2f"/>
<circle cx="171.3" cy="289.9" r="3.3" fill="#e63b2f"/>
<circle cx="181.2" cy="300" r="3.3" fill="#e63b2f"/>
<circle cx="191.1" cy="316.1" r="3.3" fill="#e63b2f"/>
<circle cx="201" cy="333.4" r="3.3" fill="#e63b2f"/>
<circle cx="210.9" cy="349.8" r="3.3" fill="#e63b2f"/>
<circle cx="220.8" cy="365.8" r="3.3" fill="#e63b2f"/>
<circle cx="230.7" cy="379.7" r="3.3" fill="#e63b2f"/>
<circle cx="240.6" cy="392.3" r="3.3" fill="#e63b2f"/>
<rect x="102.3" y="295.6" width="6" height="6" fill="#1470b8"/>
<rect x="115.5" y="300.9" width="6" height="6" fill="#1470b8"/>
<rect x="128.7" y="308.8" width="6" height="6" fill="#1470b8"/>
<rect x="141.9" y="324.5" width="6" height="6" fill="#1470b8"/>
<rect x="155.1" y="345.1" width="6" height="6" fill="#1470b8"/>
<rect x="168.3" y="374.8" width="6" height="6" fill="#1470b8"/>
<rect x="181.5" y="374.2" width="6" height="6" fill="#1470b8"/>
<rect x="194.7" y="351.6" width="6" height="6" fill="#1470b8"/>
<rect x="207.9" y="350" width="6" height="6" fill="#1470b8"/>
<rect x="221.1" y="346" width="6" height="6" fill="#1470b8"/>
<rect x="234.3" y="322.2" width="6" height="6" fill="#1470b8"/>
<rect x="194.1" y="260.5" width="6" height="6" fill="#1470b8"/>
<circle cx="197.1" cy="275.9" r="3.2" fill="#e63b2f"/>
<text x="206.6" y="267.6" font-size="11.600000000000001" text-anchor="start" fill="#474747" >Amplitude</text>
<text x="206.6" y="279.9" font-size="11.600000000000001" text-anchor="start" fill="#474747" letter-spacing="-0.4">Resistance</text>
<path d="M390.5,249.3 L390.5,419.6 L621.4,419.6" fill="none" stroke="#8c8c8c" stroke-width="1"/>
<line x1="390.5" y1="249.3" x2="621.4" y2="249.3" stroke="#8c8c8c" stroke-width="1" />
<line x1="621.4" y1="249.3" x2="621.4" y2="419.6" stroke="#8c8c8c" stroke-width="1" />
<line x1="390.5" y1="391.7" x2="387.5" y2="391.7" stroke="#8c8c8c" stroke-width="1" />
<text x="385.5" y="395.4" font-size="10.8" text-anchor="end" fill="#474747" >2</text>
<line x1="390.5" y1="334.55" x2="387.5" y2="334.55" stroke="#8c8c8c" stroke-width="1" />
<text x="385.5" y="338.25" font-size="10.8" text-anchor="end" fill="#474747" >3</text>
<line x1="390.5" y1="277.4" x2="387.5" y2="277.4" stroke="#8c8c8c" stroke-width="1" />
<text x="385.5" y="281.1" font-size="10.8" text-anchor="end" fill="#474747" >4</text>
<line x1="390.5" y1="363.12" x2="388.9" y2="363.12" stroke="#8c8c8c" stroke-width="1" />
<line x1="390.5" y1="305.98" x2="388.9" y2="305.98" stroke="#8c8c8c" stroke-width="1" />
<line x1="408.8" y1="419.6" x2="408.8" y2="422.6" stroke="#8c8c8c" stroke-width="1" />
<text x="406.3" y="433.8" font-size="10.8" text-anchor="middle" fill="#474747" >&#8722;90</text>
<line x1="426.5" y1="419.6" x2="426.5" y2="421.2" stroke="#8c8c8c" stroke-width="1" />
<line x1="444.2" y1="419.6" x2="444.2" y2="422.6" stroke="#8c8c8c" stroke-width="1" />
<text x="441.7" y="433.8" font-size="10.8" text-anchor="middle" fill="#474747" >&#8722;60</text>
<line x1="461.9" y1="419.6" x2="461.9" y2="421.2" stroke="#8c8c8c" stroke-width="1" />
<line x1="479.6" y1="419.6" x2="479.6" y2="422.6" stroke="#8c8c8c" stroke-width="1" />
<text x="477.1" y="433.8" font-size="10.8" text-anchor="middle" fill="#474747" >&#8722;30</text>
<line x1="497.3" y1="419.6" x2="497.3" y2="421.2" stroke="#8c8c8c" stroke-width="1" />
<line x1="515" y1="419.6" x2="515" y2="422.6" stroke="#8c8c8c" stroke-width="1" />
<text x="515" y="433.8" font-size="10.8" text-anchor="middle" fill="#474747" >0</text>
<line x1="532.7" y1="419.6" x2="532.7" y2="421.2" stroke="#8c8c8c" stroke-width="1" />
<line x1="550.4" y1="419.6" x2="550.4" y2="422.6" stroke="#8c8c8c" stroke-width="1" />
<text x="550.4" y="433.8" font-size="10.8" text-anchor="middle" fill="#474747" >30</text>
<line x1="568.1" y1="419.6" x2="568.1" y2="421.2" stroke="#8c8c8c" stroke-width="1" />
<line x1="585.8" y1="419.6" x2="585.8" y2="422.6" stroke="#8c8c8c" stroke-width="1" />
<text x="585.8" y="433.8" font-size="10.8" text-anchor="middle" fill="#474747" >60</text>
<line x1="603.5" y1="419.6" x2="603.5" y2="421.2" stroke="#8c8c8c" stroke-width="1" />
<line x1="621.2" y1="419.6" x2="621.2" y2="422.6" stroke="#8c8c8c" stroke-width="1" />
<text x="621.2" y="433.8" font-size="10.8" text-anchor="middle" fill="#474747" >90</text>
<line x1="496.5" y1="250.3" x2="496.5" y2="419.1" stroke="#7896b0" stroke-width="1" stroke-dasharray="3.6,3"/>
<line x1="532.8" y1="250.3" x2="532.8" y2="419.1" stroke="#8fbccc" stroke-width="1.1" stroke-dasharray="3.6,3"/>
<polyline points="414.7,395.1 420.6,398.1 426.5,387.7 432.4,374.4 438.3,376.4 444.2,367.5 450.1,358.6 456,350.3 461.9,345.3 467.8,332.5 473.7,328.1 479.6,308.9 485.5,287.2 491.4,277.3 497.3,267.5 503.2,303.4 509.1,356.2 515,377.4 520.9,347.8 526.8,327.1 532.7,317.7 538.6,329.1 544.5,338.9 550.4,340.4 556.3,353.7 562.2,355.7 568.1,361.6 574,373.4 579.9,378.3 585.8,377.9 591.7,384.3" fill="none" stroke="#111" stroke-width="1.1"/>
<rect x="412.5" y="392.9" width="4.4" height="4.4" fill="#111"/>
<rect x="418.4" y="395.9" width="4.4" height="4.4" fill="#111"/>
<rect x="424.3" y="385.5" width="4.4" height="4.4" fill="#111"/>
<rect x="430.2" y="372.2" width="4.4" height="4.4" fill="#111"/>
<rect x="436.1" y="374.2" width="4.4" height="4.4" fill="#111"/>
<rect x="442" y="365.3" width="4.4" height="4.4" fill="#111"/>
<rect x="447.9" y="356.4" width="4.4" height="4.4" fill="#111"/>
<rect x="453.8" y="348.1" width="4.4" height="4.4" fill="#111"/>
<rect x="459.7" y="343.1" width="4.4" height="4.4" fill="#111"/>
<rect x="465.6" y="330.3" width="4.4" height="4.4" fill="#111"/>
<rect x="471.5" y="325.9" width="4.4" height="4.4" fill="#111"/>
<rect x="477.4" y="306.7" width="4.4" height="4.4" fill="#111"/>
<rect x="483.3" y="285" width="4.4" height="4.4" fill="#111"/>
<rect x="489.2" y="275.1" width="4.4" height="4.4" fill="#111"/>
<rect x="495.1" y="265.3" width="4.4" height="4.4" fill="#111"/>
<rect x="501" y="301.2" width="4.4" height="4.4" fill="#111"/>
<rect x="506.9" y="354" width="4.4" height="4.4" fill="#111"/>
<rect x="512.8" y="375.2" width="4.4" height="4.4" fill="#111"/>
<rect x="518.7" y="345.6" width="4.4" height="4.4" fill="#111"/>
<rect x="524.6" y="324.9" width="4.4" height="4.4" fill="#111"/>
<rect x="530.5" y="315.5" width="4.4" height="4.4" fill="#111"/>
<rect x="536.4" y="326.9" width="4.4" height="4.4" fill="#111"/>
<rect x="542.3" y="336.7" width="4.4" height="4.4" fill="#111"/>
<rect x="548.2" y="338.2" width="4.4" height="4.4" fill="#111"/>
<rect x="554.1" y="351.5" width="4.4" height="4.4" fill="#111"/>
<rect x="560" y="353.5" width="4.4" height="4.4" fill="#111"/>
<rect x="565.9" y="359.4" width="4.4" height="4.4" fill="#111"/>
<rect x="571.8" y="371.2" width="4.4" height="4.4" fill="#111"/>
<rect x="577.7" y="376.1" width="4.4" height="4.4" fill="#111"/>
<rect x="583.6" y="375.7" width="4.4" height="4.4" fill="#111"/>
<rect x="589.5" y="382.1" width="4.4" height="4.4" fill="#111"/>
<text x="506.2" y="447.5" font-size="11.0" text-anchor="middle" fill="#474747" >Gate bias <tspan font-style="italic">V</tspan><tspan font-size="8" dy="2.8">G</tspan><tspan dy="-2.8"> - </tspan><tspan font-style="italic">V</tspan><tspan font-size="8" dy="2.8">D</tspan><tspan dy="-2.8"> (V)</tspan></text>
<text transform="translate(362.5,337.8) rotate(-90)" font-size="11.7" text-anchor="middle" fill="#474747">Noise amplitude (&#215;10<tspan font-size="8" dy="-4.5">&#8722;8</tspan><tspan dy="4.5">)</tspan></text>
<text x="332.3" y="245.4" font-size="12" font-weight="bold" fill="#111">d</text>
<rect x="65.8" y="564.3" width="211.6" height="20.2" fill="url(#hatch)" stroke="#72ab86" stroke-width="1"/>
<path d="M65.3,477 L65.3,648.5 L277.4,648.5" fill="none" stroke="#8c8c8c" stroke-width="1"/>
<line x1="65.3" y1="477" x2="277.4" y2="477" stroke="#8c8c8c" stroke-width="1" />
<line x1="277.4" y1="477" x2="277.4" y2="648.5" stroke="#8c8c8c" stroke-width="1" />
<line x1="65.3" y1="640.7" x2="62.3" y2="640.7" stroke="#8c8c8c" stroke-width="1" />
<text x="59.8" y="644.4" font-size="10.5" text-anchor="end" fill="#474747">10<tspan font-size="8.2" dy="-4.5">&#8722;11</tspan></text>
<line x1="65.3" y1="621.7" x2="62.3" y2="621.7" stroke="#8c8c8c" stroke-width="1" />
<text x="59.8" y="625.4" font-size="10.5" text-anchor="end" fill="#474747">10<tspan font-size="8.2" dy="-4.5">&#8722;10</tspan></text>
<line x1="65.3" y1="602.7" x2="62.3" y2="602.7" stroke="#8c8c8c" stroke-width="1" />
<text x="59.8" y="606.4" font-size="10.5" text-anchor="end" fill="#474747">10<tspan font-size="8.2" dy="-4.5">&#8722;9</tspan></text>
<line x1="65.3" y1="583.7" x2="62.3" y2="583.7" stroke="#8c8c8c" stroke-width="1" />
<text x="59.8" y="587.4" font-size="10.5" text-anchor="end" fill="#474747">10<tspan font-size="8.2" dy="-4.5">&#8722;8</tspan></text>
<line x1="65.3" y1="564.7" x2="62.3" y2="564.7" stroke="#8c8c8c" stroke-width="1" />
<text x="59.8" y="568.4" font-size="10.5" text-anchor="end" fill="#474747">10<tspan font-size="8.2" dy="-4.5">&#8722;7</tspan></text>
<line x1="65.3" y1="545.7" x2="62.3" y2="545.7" stroke="#8c8c8c" stroke-width="1" />
<text x="59.8" y="549.4" font-size="10.5" text-anchor="end" fill="#474747">10<tspan font-size="8.2" dy="-4.5">&#8722;6</tspan></text>
<line x1="65.3" y1="526.7" x2="62.3" y2="526.7" stroke="#8c8c8c" stroke-width="1" />
<text x="59.8" y="530.4" font-size="10.5" text-anchor="end" fill="#474747">10<tspan font-size="8.2" dy="-4.5">&#8722;5</tspan></text>
<line x1="65.3" y1="507.7" x2="62.3" y2="507.7" stroke="#8c8c8c" stroke-width="1" />
<text x="59.8" y="511.4" font-size="10.5" text-anchor="end" fill="#474747">10<tspan font-size="8.2" dy="-4.5">&#8722;4</tspan></text>
<line x1="65.3" y1="488.7" x2="62.3" y2="488.7" stroke="#8c8c8c" stroke-width="1" />
<text x="59.8" y="492.4" font-size="10.5" text-anchor="end" fill="#474747">10<tspan font-size="8.2" dy="-4.5">&#8722;3</tspan></text>
<line x1="65.3" y1="648.26" x2="63.7" y2="648.26" stroke="#8c8c8c" stroke-width="1" />
<line x1="65.3" y1="646.42" x2="63.7" y2="646.42" stroke="#8c8c8c" stroke-width="1" />
<line x1="65.3" y1="644.92" x2="63.7" y2="644.92" stroke="#8c8c8c" stroke-width="1" />
<line x1="65.3" y1="643.64" x2="63.7" y2="643.64" stroke="#8c8c8c" stroke-width="1" />
<line x1="65.3" y1="642.54" x2="63.7" y2="642.54" stroke="#8c8c8c" stroke-width="1" />
<line x1="65.3" y1="641.57" x2="63.7" y2="641.57" stroke="#8c8c8c" stroke-width="1" />
<line x1="65.3" y1="634.98" x2="63.7" y2="634.98" stroke="#8c8c8c" stroke-width="1" />
<line x1="65.3" y1="631.63" x2="63.7" y2="631.63" stroke="#8c8c8c" stroke-width="1" />
<line x1="65.3" y1="629.26" x2="63.7" y2="629.26" stroke="#8c8c8c" stroke-width="1" />
<line x1="65.3" y1="627.42" x2="63.7" y2="627.42" stroke="#8c8c8c" stroke-width="1" />
<line x1="65.3" y1="625.92" x2="63.7" y2="625.92" stroke="#8c8c8c" stroke-width="1" />
<line x1="65.3" y1="624.64" x2="63.7" y2="624.64" stroke="#8c8c8c" stroke-width="1" />
<line x1="65.3" y1="623.54" x2="63.7" y2="623.54" stroke="#8c8c8c" stroke-width="1" />
<line x1="65.3" y1="622.57" x2="63.7" y2="622.57" stroke="#8c8c8c" stroke-width="1" />
<line x1="65.3" y1="615.98" x2="63.7" y2="615.98" stroke="#8c8c8c" stroke-width="1" />
<line x1="65.3" y1="612.63" x2="63.7" y2="612.63" stroke="#8c8c8c" stroke-width="1" />
<line x1="65.3" y1="610.26" x2="63.7" y2="610.26" stroke="#8c8c8c" stroke-width="1" />
<line x1="65.3" y1="608.42" x2="63.7" y2="608.42" stroke="#8c8c8c" stroke-width="1" />
<line x1="65.3" y1="606.92" x2="63.7" y2="606.92" stroke="#8c8c8c" stroke-width="1" />
<line x1="65.3" y1="605.64" x2="63.7" y2="605.64" stroke="#8c8c8c" stroke-width="1" />
<line x1="65.3" y1="604.54" x2="63.7" y2="604.54" stroke="#8c8c8c" stroke-width="1" />
<line x1="65.3" y1="603.57" x2="63.7" y2="603.57" stroke="#8c8c8c" stroke-width="1" />
<line x1="65.3" y1="596.98" x2="63.7" y2="596.98" stroke="#8c8c8c" stroke-width="1" />
<line x1="65.3" y1="593.63" x2="63.7" y2="593.63" stroke="#8c8c8c" stroke-width="1" />
<line x1="65.3" y1="591.26" x2="63.7" y2="591.26" stroke="#8c8c8c" stroke-width="1" />
<line x1="65.3" y1="589.42" x2="63.7" y2="589.42" stroke="#8c8c8c" stroke-width="1" />
<line x1="65.3" y1="587.92" x2="63.7" y2="587.92" stroke="#8c8c8c" stroke-width="1" />
<line x1="65.3" y1="586.64" x2="63.7" y2="586.64" stroke="#8c8c8c" stroke-width="1" />
<line x1="65.3" y1="585.54" x2="63.7" y2="585.54" stroke="#8c8c8c" stroke-width="1" />
<line x1="65.3" y1="584.57" x2="63.7" y2="584.57" stroke="#8c8c8c" stroke-width="1" />
<line x1="65.3" y1="577.98" x2="63.7" y2="577.98" stroke="#8c8c8c" stroke-width="1" />
<line x1="65.3" y1="574.63" x2="63.7" y2="574.63" stroke="#8c8c8c" stroke-width="1" />
<line x1="65.3" y1="572.26" x2="63.7" y2="572.26" stroke="#8c8c8c" stroke-width="1" />
<line x1="65.3" y1="570.42" x2="63.7" y2="570.42" stroke="#8c8c8c" stroke-width="1" />
<line x1="65.3" y1="568.92" x2="63.7" y2="568.92" stroke="#8c8c8c" stroke-width="1" />
<line x1="65.3" y1="567.64" x2="63.7" y2="567.64" stroke="#8c8c8c" stroke-width="1" />
<line x1="65.3" y1="566.54" x2="63.7" y2="566.54" stroke="#8c8c8c" stroke-width="1" />
<line x1="65.3" y1="565.57" x2="63.7" y2="565.57" stroke="#8c8c8c" stroke-width="1" />
<line x1="65.3" y1="558.98" x2="63.7" y2="558.98" stroke="#8c8c8c" stroke-width="1" />
<line x1="65.3" y1="555.63" x2="63.7" y2="555.63" stroke="#8c8c8c" stroke-width="1" />
<line x1="65.3" y1="553.26" x2="63.7" y2="553.26" stroke="#8c8c8c" stroke-width="1" />
<line x1="65.3" y1="551.42" x2="63.7" y2="551.42" stroke="#8c8c8c" stroke-width="1" />
<line x1="65.3" y1="549.92" x2="63.7" y2="549.92" stroke="#8c8c8c" stroke-width="1" />
<line x1="65.3" y1="548.64" x2="63.7" y2="548.64" stroke="#8c8c8c" stroke-width="1" />
<line x1="65.3" y1="547.54" x2="63.7" y2="547.54" stroke="#8c8c8c" stroke-width="1" />
<line x1="65.3" y1="546.57" x2="63.7" y2="546.57" stroke="#8c8c8c" stroke-width="1" />
<line x1="65.3" y1="539.98" x2="63.7" y2="539.98" stroke="#8c8c8c" stroke-width="1" />
<line x1="65.3" y1="536.63" x2="63.7" y2="536.63" stroke="#8c8c8c" stroke-width="1" />
<line x1="65.3" y1="534.26" x2="63.7" y2="534.26" stroke="#8c8c8c" stroke-width="1" />
<line x1="65.3" y1="532.42" x2="63.7" y2="532.42" stroke="#8c8c8c" stroke-width="1" />
<line x1="65.3" y1="530.92" x2="63.7" y2="530.92" stroke="#8c8c8c" stroke-width="1" />
<line x1="65.3" y1="529.64" x2="63.7" y2="529.64" stroke="#8c8c8c" stroke-width="1" />
<line x1="65.3" y1="528.54" x2="63.7" y2="528.54" stroke="#8c8c8c" stroke-width="1" />
<line x1="65.3" y1="527.57" x2="63.7" y2="527.57" stroke="#8c8c8c" stroke-width="1" />
<line x1="65.3" y1="520.98" x2="63.7" y2="520.98" stroke="#8c8c8c" stroke-width="1" />
<line x1="65.3" y1="517.63" x2="63.7" y2="517.63" stroke="#8c8c8c" stroke-width="1" />
<line x1="65.3" y1="515.26" x2="63.7" y2="515.26" stroke="#8c8c8c" stroke-width="1" />
<line x1="65.3" y1="513.42" x2="63.7" y2="513.42" stroke="#8c8c8c" stroke-width="1" />
<line x1="65.3" y1="511.92" x2="63.7" y2="511.92" stroke="#8c8c8c" stroke-width="1" />
<line x1="65.3" y1="510.64" x2="63.7" y2="510.64" stroke="#8c8c8c" stroke-width="1" />
<line x1="65.3" y1="509.54" x2="63.7" y2="509.54" stroke="#8c8c8c" stroke-width="1" />
<line x1="65.3" y1="508.57" x2="63.7" y2="508.57" stroke="#8c8c8c" stroke-width="1" />
<line x1="65.3" y1="501.98" x2="63.7" y2="501.98" stroke="#8c8c8c" stroke-width="1" />
<line x1="65.3" y1="498.63" x2="63.7" y2="498.63" stroke="#8c8c8c" stroke-width="1" />
<line x1="65.3" y1="496.26" x2="63.7" y2="496.26" stroke="#8c8c8c" stroke-width="1" />
<line x1="65.3" y1="494.42" x2="63.7" y2="494.42" stroke="#8c8c8c" stroke-width="1" />
<line x1="65.3" y1="492.92" x2="63.7" y2="492.92" stroke="#8c8c8c" stroke-width="1" />
<line x1="65.3" y1="491.64" x2="63.7" y2="491.64" stroke="#8c8c8c" stroke-width="1" />
<line x1="65.3" y1="490.54" x2="63.7" y2="490.54" stroke="#8c8c8c" stroke-width="1" />
<line x1="65.3" y1="489.57" x2="63.7" y2="489.57" stroke="#8c8c8c" stroke-width="1" />
<line x1="65.3" y1="482.98" x2="63.7" y2="482.98" stroke="#8c8c8c" stroke-width="1" />
<line x1="65.3" y1="479.63" x2="63.7" y2="479.63" stroke="#8c8c8c" stroke-width="1" />
<line x1="65.3" y1="477.26" x2="63.7" y2="477.26" stroke="#8c8c8c" stroke-width="1" />
<line x1="65.1" y1="648.5" x2="65.1" y2="651.5" stroke="#8c8c8c" stroke-width="1" />
<line x1="87.17" y1="648.5" x2="87.17" y2="650.1" stroke="#8c8c8c" stroke-width="1" />
<line x1="100.07" y1="648.5" x2="100.07" y2="650.1" stroke="#8c8c8c" stroke-width="1" />
<line x1="109.23" y1="648.5" x2="109.23" y2="650.1" stroke="#8c8c8c" stroke-width="1" />
<line x1="116.33" y1="648.5" x2="116.33" y2="650.1" stroke="#8c8c8c" stroke-width="1" />
<line x1="122.14" y1="648.5" x2="122.14" y2="650.1" stroke="#8c8c8c" stroke-width="1" />
<line x1="127.05" y1="648.5" x2="127.05" y2="650.1" stroke="#8c8c8c" stroke-width="1" />
<line x1="131.3" y1="648.5" x2="131.3" y2="650.1" stroke="#8c8c8c" stroke-width="1" />
<line x1="135.05" y1="648.5" x2="135.05" y2="650.1" stroke="#8c8c8c" stroke-width="1" />
<line x1="138.4" y1="648.5" x2="138.4" y2="651.5" stroke="#8c8c8c" stroke-width="1" />
<line x1="160.47" y1="648.5" x2="160.47" y2="650.1" stroke="#8c8c8c" stroke-width="1" />
<line x1="173.37" y1="648.5" x2="173.37" y2="650.1" stroke="#8c8c8c" stroke-width="1" />
<line x1="182.53" y1="648.5" x2="182.53" y2="650.1" stroke="#8c8c8c" stroke-width="1" />
<line x1="189.63" y1="648.5" x2="189.63" y2="650.1" stroke="#8c8c8c" stroke-width="1" />
<line x1="195.44" y1="648.5" x2="195.44" y2="650.1" stroke="#8c8c8c" stroke-width="1" />
<line x1="200.35" y1="648.5" x2="200.35" y2="650.1" stroke="#8c8c8c" stroke-width="1" />
<line x1="204.6" y1="648.5" x2="204.6" y2="650.1" stroke="#8c8c8c" stroke-width="1" />
<line x1="208.35" y1="648.5" x2="208.35" y2="650.1" stroke="#8c8c8c" stroke-width="1" />
<line x1="211.7" y1="648.5" x2="211.7" y2="651.5" stroke="#8c8c8c" stroke-width="1" />
<line x1="233.77" y1="648.5" x2="233.77" y2="650.1" stroke="#8c8c8c" stroke-width="1" />
<line x1="246.67" y1="648.5" x2="246.67" y2="650.1" stroke="#8c8c8c" stroke-width="1" />
<line x1="255.83" y1="648.5" x2="255.83" y2="650.1" stroke="#8c8c8c" stroke-width="1" />
<line x1="262.93" y1="648.5" x2="262.93" y2="650.1" stroke="#8c8c8c" stroke-width="1" />
<line x1="268.74" y1="648.5" x2="268.74" y2="650.1" stroke="#8c8c8c" stroke-width="1" />
<line x1="273.65" y1="648.5" x2="273.65" y2="650.1" stroke="#8c8c8c" stroke-width="1" />
<text x="65.1" y="663.3" font-size="10.8" text-anchor="middle" fill="#474747" >0.1</text>
<text x="138.4" y="663.3" font-size="10.8" text-anchor="middle" fill="#474747" >1</text>
<text x="211.7" y="663.3" font-size="10.8" text-anchor="middle" fill="#474747" >10</text>
<text x="175.4" y="678.4" font-size="11.0" text-anchor="middle" fill="#474747" >Gate bias <tspan font-style="italic">V</tspan><tspan font-size="8" dy="2.8">G</tspan><tspan dy="-2.8"> - </tspan><tspan font-style="italic">V</tspan><tspan font-size="8" dy="2.8">T</tspan><tspan dy="-2.8"> (V)</tspan></text>
<text transform="translate(22.8,564.1) rotate(-90)" font-size="11.7" text-anchor="middle" fill="#474747"><tspan font-style="italic">S</tspan><tspan font-size="8" font-style="italic" dy="2.8">I</tspan><tspan dy="-2.8">/</tspan><tspan font-style="italic">I</tspan><tspan font-size="8" dy="-4.5">2</tspan><tspan dy="4.5"> &#215; </tspan><tspan font-style="italic">W</tspan> &#215; <tspan font-style="italic">L</tspan> (&#956;m<tspan font-size="8" dy="-4.5">2</tspan><tspan dy="4.5"> H</tspan><tspan font-size="8" dy="-4.5">&#8722;1</tspan><tspan dy="4.5">)</tspan></text>
<text x="2.6" y="474" font-size="12" font-weight="bold" fill="#111">e</text>
<line x1="88" y1="487" x2="259.9" y2="576.7" stroke="#9b5fa5" stroke-width="1.1" />
<line x1="88" y1="525.2" x2="260.2" y2="615.3" stroke="#2e5fa6" stroke-width="1.1" />
<line x1="88" y1="549.4" x2="259.9" y2="639.4" stroke="#e23a36" stroke-width="1.1" />
<text x="81.5" y="489.5" font-size="11.3" text-anchor="middle" fill="#474747" >3</text>
<text x="81.5" y="527.2" font-size="11.3" text-anchor="middle" fill="#474747" >2</text>
<text x="81.5" y="549.2" font-size="11.3" text-anchor="middle" fill="#474747" >1</text>
<line x1="95.2" y1="612.7" x2="97.7" y2="592" stroke="#2fa35a" stroke-width="1.1" />
<path d="M98,586.8 L100.9,593.6 L95,593.2 Z" fill="#2fa35a"/>
<text x="77.7" y="622.2" font-size="11.3" text-anchor="start" fill="#474747" >Graphene</text>
<path d="M390.3,477.1 L390.3,648 L621.6,648" fill="none" stroke="#8c8c8c" stroke-width="1"/>
<line x1="390.3" y1="477.1" x2="621.6" y2="477.1" stroke="#8c8c8c" stroke-width="1" />
<line x1="621.6" y1="477.1" x2="621.6" y2="648" stroke="#8c8c8c" stroke-width="1" />
<line x1="390.3" y1="640.55" x2="387.3" y2="640.55" stroke="#8c8c8c" stroke-width="1" />
<text x="384.6" y="644.25" font-size="10.5" text-anchor="end" fill="#474747">10<tspan font-size="8.2" dy="-4.5">&#8722;13</tspan></text>
<line x1="390.3" y1="611.8" x2="387.3" y2="611.8" stroke="#8c8c8c" stroke-width="1" />
<text x="384.6" y="615.5" font-size="10.5" text-anchor="end" fill="#474747">10<tspan font-size="8.2" dy="-4.5">&#8722;12</tspan></text>
<line x1="390.3" y1="583.05" x2="387.3" y2="583.05" stroke="#8c8c8c" stroke-width="1" />
<text x="384.6" y="586.75" font-size="10.5" text-anchor="end" fill="#474747">10<tspan font-size="8.2" dy="-4.5">&#8722;11</tspan></text>
<line x1="390.3" y1="554.3" x2="387.3" y2="554.3" stroke="#8c8c8c" stroke-width="1" />
<text x="384.6" y="558" font-size="10.5" text-anchor="end" fill="#474747">10<tspan font-size="8.2" dy="-4.5">&#8722;10</tspan></text>
<line x1="390.3" y1="525.55" x2="387.3" y2="525.55" stroke="#8c8c8c" stroke-width="1" />
<text x="384.6" y="529.25" font-size="10.5" text-anchor="end" fill="#474747">10<tspan font-size="8.2" dy="-4.5">&#8722;9</tspan></text>
<line x1="390.3" y1="496.8" x2="387.3" y2="496.8" stroke="#8c8c8c" stroke-width="1" />
<text x="384.6" y="500.5" font-size="10.5" text-anchor="end" fill="#474747">10<tspan font-size="8.2" dy="-4.5">&#8722;8</tspan></text>
<line x1="390.3" y1="646.93" x2="388.7" y2="646.93" stroke="#8c8c8c" stroke-width="1" />
<line x1="390.3" y1="645" x2="388.7" y2="645" stroke="#8c8c8c" stroke-width="1" />
<line x1="390.3" y1="643.34" x2="388.7" y2="643.34" stroke="#8c8c8c" stroke-width="1" />
<line x1="390.3" y1="641.87" x2="388.7" y2="641.87" stroke="#8c8c8c" stroke-width="1" />
<line x1="390.3" y1="631.9" x2="388.7" y2="631.9" stroke="#8c8c8c" stroke-width="1" />
<line x1="390.3" y1="626.83" x2="388.7" y2="626.83" stroke="#8c8c8c" stroke-width="1" />
<line x1="390.3" y1="623.24" x2="388.7" y2="623.24" stroke="#8c8c8c" stroke-width="1" />
<line x1="390.3" y1="620.45" x2="388.7" y2="620.45" stroke="#8c8c8c" stroke-width="1" />
<line x1="390.3" y1="618.18" x2="388.7" y2="618.18" stroke="#8c8c8c" stroke-width="1" />
<line x1="390.3" y1="616.25" x2="388.7" y2="616.25" stroke="#8c8c8c" stroke-width="1" />
<line x1="390.3" y1="614.59" x2="388.7" y2="614.59" stroke="#8c8c8c" stroke-width="1" />
<line x1="390.3" y1="613.12" x2="388.7" y2="613.12" stroke="#8c8c8c" stroke-width="1" />
<line x1="390.3" y1="603.15" x2="388.7" y2="603.15" stroke="#8c8c8c" stroke-width="1" />
<line x1="390.3" y1="598.08" x2="388.7" y2="598.08" stroke="#8c8c8c" stroke-width="1" />
<line x1="390.3" y1="594.49" x2="388.7" y2="594.49" stroke="#8c8c8c" stroke-width="1" />
<line x1="390.3" y1="591.7" x2="388.7" y2="591.7" stroke="#8c8c8c" stroke-width="1" />
<line x1="390.3" y1="589.43" x2="388.7" y2="589.43" stroke="#8c8c8c" stroke-width="1" />
<line x1="390.3" y1="587.5" x2="388.7" y2="587.5" stroke="#8c8c8c" stroke-width="1" />
<line x1="390.3" y1="585.84" x2="388.7" y2="585.84" stroke="#8c8c8c" stroke-width="1" />
<line x1="390.3" y1="584.37" x2="388.7" y2="584.37" stroke="#8c8c8c" stroke-width="1" />
<line x1="390.3" y1="574.4" x2="388.7" y2="574.4" stroke="#8c8c8c" stroke-width="1" />
<line x1="390.3" y1="569.33" x2="388.7" y2="569.33" stroke="#8c8c8c" stroke-width="1" />
<line x1="390.3" y1="565.74" x2="388.7" y2="565.74" stroke="#8c8c8c" stroke-width="1" />
<line x1="390.3" y1="562.95" x2="388.7" y2="562.95" stroke="#8c8c8c" stroke-width="1" />
<line x1="390.3" y1="560.68" x2="388.7" y2="560.68" stroke="#8c8c8c" stroke-width="1" />
<line x1="390.3" y1="558.75" x2="388.7" y2="558.75" stroke="#8c8c8c" stroke-width="1" />
<line x1="390.3" y1="557.09" x2="388.7" y2="557.09" stroke="#8c8c8c" stroke-width="1" />
<line x1="390.3" y1="555.62" x2="388.7" y2="555.62" stroke="#8c8c8c" stroke-width="1" />
<line x1="390.3" y1="545.65" x2="388.7" y2="545.65" stroke="#8c8c8c" stroke-width="1" />
<line x1="390.3" y1="540.58" x2="388.7" y2="540.58" stroke="#8c8c8c" stroke-width="1" />
<line x1="390.3" y1="536.99" x2="388.7" y2="536.99" stroke="#8c8c8c" stroke-width="1" />
<line x1="390.3" y1="534.2" x2="388.7" y2="534.2" stroke="#8c8c8c" stroke-width="1" />
<line x1="390.3" y1="531.93" x2="388.7" y2="531.93" stroke="#8c8c8c" stroke-width="1" />
<line x1="390.3" y1="530" x2="388.7" y2="530" stroke="#8c8c8c" stroke-width="1" />
<line x1="390.3" y1="528.34" x2="388.7" y2="528.34" stroke="#8c8c8c" stroke-width="1" />
<line x1="390.3" y1="526.87" x2="388.7" y2="526.87" stroke="#8c8c8c" stroke-width="1" />
<line x1="390.3" y1="516.9" x2="388.7" y2="516.9" stroke="#8c8c8c" stroke-width="1" />
<line x1="390.3" y1="511.83" x2="388.7" y2="511.83" stroke="#8c8c8c" stroke-width="1" />
<line x1="390.3" y1="508.24" x2="388.7" y2="508.24" stroke="#8c8c8c" stroke-width="1" />
<line x1="390.3" y1="505.45" x2="388.7" y2="505.45" stroke="#8c8c8c" stroke-width="1" />
<line x1="390.3" y1="503.18" x2="388.7" y2="503.18" stroke="#8c8c8c" stroke-width="1" />
<line x1="390.3" y1="501.25" x2="388.7" y2="501.25" stroke="#8c8c8c" stroke-width="1" />
<line x1="390.3" y1="499.59" x2="388.7" y2="499.59" stroke="#8c8c8c" stroke-width="1" />
<line x1="390.3" y1="498.12" x2="388.7" y2="498.12" stroke="#8c8c8c" stroke-width="1" />
<line x1="390.3" y1="488.15" x2="388.7" y2="488.15" stroke="#8c8c8c" stroke-width="1" />
<line x1="390.3" y1="483.08" x2="388.7" y2="483.08" stroke="#8c8c8c" stroke-width="1" />
<line x1="390.3" y1="479.49" x2="388.7" y2="479.49" stroke="#8c8c8c" stroke-width="1" />
<line x1="390.78" y1="648" x2="390.78" y2="649.6" stroke="#8c8c8c" stroke-width="1" />
<line x1="394.71" y1="648" x2="394.71" y2="649.6" stroke="#8c8c8c" stroke-width="1" />
<line x1="397.92" y1="648" x2="397.92" y2="649.6" stroke="#8c8c8c" stroke-width="1" />
<line x1="400.63" y1="648" x2="400.63" y2="649.6" stroke="#8c8c8c" stroke-width="1" />
<line x1="402.98" y1="648" x2="402.98" y2="649.6" stroke="#8c8c8c" stroke-width="1" />
<line x1="405.05" y1="648" x2="405.05" y2="649.6" stroke="#8c8c8c" stroke-width="1" />
<line x1="406.9" y1="648" x2="406.9" y2="651" stroke="#8c8c8c" stroke-width="1" />
<text x="401" y="663.3" font-size="10.5" text-anchor="start" fill="#474747">10<tspan font-size="8.2" dy="-4.5">0</tspan></text>
<line x1="419.09" y1="648" x2="419.09" y2="649.6" stroke="#8c8c8c" stroke-width="1" />
<line x1="426.22" y1="648" x2="426.22" y2="649.6" stroke="#8c8c8c" stroke-width="1" />
<line x1="431.28" y1="648" x2="431.28" y2="649.6" stroke="#8c8c8c" stroke-width="1" />
<line x1="435.21" y1="648" x2="435.21" y2="649.6" stroke="#8c8c8c" stroke-width="1" />
<line x1="438.42" y1="648" x2="438.42" y2="649.6" stroke="#8c8c8c" stroke-width="1" />
<line x1="441.13" y1="648" x2="441.13" y2="649.6" stroke="#8c8c8c" stroke-width="1" />
<line x1="443.48" y1="648" x2="443.48" y2="649.6" stroke="#8c8c8c" stroke-width="1" />
<line x1="445.55" y1="648" x2="445.55" y2="649.6" stroke="#8c8c8c" stroke-width="1" />
<line x1="447.4" y1="648" x2="447.4" y2="651" stroke="#8c8c8c" stroke-width="1" />
<text x="441.5" y="663.3" font-size="10.5" text-anchor="start" fill="#474747">10<tspan font-size="8.2" dy="-4.5">1</tspan></text>
<line x1="459.59" y1="648" x2="459.59" y2="649.6" stroke="#8c8c8c" stroke-width="1" />
<line x1="466.72" y1="648" x2="466.72" y2="649.6" stroke="#8c8c8c" stroke-width="1" />
<line x1="471.78" y1="648" x2="471.78" y2="649.6" stroke="#8c8c8c" stroke-width="1" />
<line x1="475.71" y1="648" x2="475.71" y2="649.6" stroke="#8c8c8c" stroke-width="1" />
<line x1="478.92" y1="648" x2="478.92" y2="649.6" stroke="#8c8c8c" stroke-width="1" />
<line x1="481.63" y1="648" x2="481.63" y2="649.6" stroke="#8c8c8c" stroke-width="1" />
<line x1="483.98" y1="648" x2="483.98" y2="649.6" stroke="#8c8c8c" stroke-width="1" />
<line x1="486.05" y1="648" x2="486.05" y2="649.6" stroke="#8c8c8c" stroke-width="1" />
<line x1="487.9" y1="648" x2="487.9" y2="651" stroke="#8c8c8c" stroke-width="1" />
<text x="482" y="663.3" font-size="10.5" text-anchor="start" fill="#474747">10<tspan font-size="8.2" dy="-4.5">2</tspan></text>
<line x1="500.09" y1="648" x2="500.09" y2="649.6" stroke="#8c8c8c" stroke-width="1" />
<line x1="507.22" y1="648" x2="507.22" y2="649.6" stroke="#8c8c8c" stroke-width="1" />
<line x1="512.28" y1="648" x2="512.28" y2="649.6" stroke="#8c8c8c" stroke-width="1" />
<line x1="516.21" y1="648" x2="516.21" y2="649.6" stroke="#8c8c8c" stroke-width="1" />
<line x1="519.42" y1="648" x2="519.42" y2="649.6" stroke="#8c8c8c" stroke-width="1" />
<line x1="522.13" y1="648" x2="522.13" y2="649.6" stroke="#8c8c8c" stroke-width="1" />
<line x1="524.48" y1="648" x2="524.48" y2="649.6" stroke="#8c8c8c" stroke-width="1" />
<line x1="526.55" y1="648" x2="526.55" y2="649.6" stroke="#8c8c8c" stroke-width="1" />
<line x1="528.4" y1="648" x2="528.4" y2="651" stroke="#8c8c8c" stroke-width="1" />
<text x="522.5" y="663.3" font-size="10.5" text-anchor="start" fill="#474747">10<tspan font-size="8.2" dy="-4.5">3</tspan></text>
<line x1="540.59" y1="648" x2="540.59" y2="649.6" stroke="#8c8c8c" stroke-width="1" />
<line x1="547.72" y1="648" x2="547.72" y2="649.6" stroke="#8c8c8c" stroke-width="1" />
<line x1="552.78" y1="648" x2="552.78" y2="649.6" stroke="#8c8c8c" stroke-width="1" />
<line x1="556.71" y1="648" x2="556.71" y2="649.6" stroke="#8c8c8c" stroke-width="1" />
<line x1="559.92" y1="648" x2="559.92" y2="649.6" stroke="#8c8c8c" stroke-width="1" />
<line x1="562.63" y1="648" x2="562.63" y2="649.6" stroke="#8c8c8c" stroke-width="1" />
<line x1="564.98" y1="648" x2="564.98" y2="649.6" stroke="#8c8c8c" stroke-width="1" />
<line x1="567.05" y1="648" x2="567.05" y2="649.6" stroke="#8c8c8c" stroke-width="1" />
<line x1="568.9" y1="648" x2="568.9" y2="651" stroke="#8c8c8c" stroke-width="1" />
<text x="563" y="663.3" font-size="10.5" text-anchor="start" fill="#474747">10<tspan font-size="8.2" dy="-4.5">4</tspan></text>
<line x1="581.09" y1="648" x2="581.09" y2="649.6" stroke="#8c8c8c" stroke-width="1" />
<line x1="588.22" y1="648" x2="588.22" y2="649.6" stroke="#8c8c8c" stroke-width="1" />
<line x1="593.28" y1="648" x2="593.28" y2="649.6" stroke="#8c8c8c" stroke-width="1" />
<line x1="597.21" y1="648" x2="597.21" y2="649.6" stroke="#8c8c8c" stroke-width="1" />
<line x1="600.42" y1="648" x2="600.42" y2="649.6" stroke="#8c8c8c" stroke-width="1" />
<line x1="603.13" y1="648" x2="603.13" y2="649.6" stroke="#8c8c8c" stroke-width="1" />
<line x1="605.48" y1="648" x2="605.48" y2="649.6" stroke="#8c8c8c" stroke-width="1" />
<line x1="607.55" y1="648" x2="607.55" y2="649.6" stroke="#8c8c8c" stroke-width="1" />
<line x1="609.4" y1="648" x2="609.4" y2="651" stroke="#8c8c8c" stroke-width="1" />
<text x="603.5" y="663.3" font-size="10.5" text-anchor="start" fill="#474747">10<tspan font-size="8.2" dy="-4.5">5</tspan></text>
<line x1="621.59" y1="648" x2="621.59" y2="649.6" stroke="#8c8c8c" stroke-width="1" />
<text x="511.7" y="678.8" font-size="11.3" text-anchor="middle" fill="#474747" ><tspan font-style="italic">f</tspan> (Hz)</text>
<text transform="translate(353.8,568.9) rotate(-90)" font-size="11.7" text-anchor="middle" fill="#474747"><tspan font-style="italic">S</tspan><tspan font-size="8" font-style="italic" dy="2.8">I</tspan><tspan dy="-2.8">/</tspan><tspan font-style="italic">I</tspan><tspan font-size="8" dy="-4.5">2</tspan><tspan dy="4.5"> (Hz</tspan><tspan font-size="8" dy="-4.5">&#8722;1</tspan><tspan dy="4.5">)</tspan></text>
<text x="332.5" y="473.5" font-size="12" font-weight="bold" fill="#111">f</text>
<line x1="437.3" y1="490.8" x2="597.4" y2="602.4" stroke="#555" stroke-width="1.05" stroke-dasharray="2.9,2.9"/>
<text x="570.4" y="568.6" font-size="12.5" text-anchor="start" fill="#474747" >1/<tspan font-style="italic">f</tspan></text>
<polyline points="406.4,486.29 407.1,486.9 407.8,486.96 408.5,486.73 409.2,486.47 409.9,487.04 410.6,486.76 411.3,486.32 412,487.43 412.7,488.16 413.4,489.41 414.1,489.58 414.8,490.91 415.5,492.08 416.2,491.95 416.9,494.09 417.6,495.61 418.3,498.76 419,499.16 419.7,499.54 420.4,500.74 421.1,500.74 421.8,501.53 422.5,501.08 423.2,501.48 423.9,502.59 424.6,503.14 425.3,503.16 426,502.31 426.7,503.28 427.4,503.78 428.1,505.19 428.8,505.96 429.5,507.5 430.2,507.8 430.9,508.55 431.6,509.73 432.3,509.31 433,509.98 433.7,510.65 434.4,513.46 435.1,513.69 435.8,514.33 436.5,514.82 437.2,514.51 437.9,513.42 438.6,514.97 439.3,514.92 440,515.95 440.7,515.05 441.4,515.36 442.1,517.07 442.8,518.38 443.5,517.08 444.2,516.42 444.9,517.2 445.6,518.44 446.3,518.86 447,519.68 447.7,519.44 448.4,520.85 449.1,522.39 449.8,522.36 450.5,521.83 451.2,522.34 451.9,524.13 452.6,523.51 453.3,524.72 454,525.02 454.7,526.16 455.4,527.04 456.1,528.05 456.8,530.11 457.5,530.77 458.2,532.11 458.9,531.97 459.6,531.87 460.3,532.71 461,530.98 461.7,532.33 462.4,533.54 463.1,533.43 463.8,534.91 464.5,535.26 465.2,534.26 465.9,535.61 466.6,536.08 467.3,536.95 468,537.99 468.7,539.92 469.4,540.44 470.1,540.9 470.8,541.73 471.5,540.76 472.2,542.64 472.9,542.24 473.6,543.32 474.3,543.01 475,543.14 475.7,543.85 476.4,546.16 477.1,546.86 477.8,546.53 478.5,546.76 479.2,546.47 479.9,547.31 480.6,547.63 481.3,548.95 482,548.45 482.7,549.08 483.4,549.3 484.1,549.72 484.8,551.23 485.5,551.95 486.2,552.94 486.9,554.18 487.6,555.12 488.3,554.12 489,555.1 489.7,554.29 490.4,555.22 491.1,557.39 491.8,557.44 492.5,557.57 493.2,558.24 493.9,558.77 494.6,559.31 495.3,559.32 496,560.87" fill="none" stroke="#2a52a6" stroke-width="1.35" stroke-linejoin="round"/>
<polyline points="499.5,565.33 500.2,565.69 500.9,566.29 501.6,566.21 502.3,565.82 503,566.18 503.7,567.62 504.4,568.66 505.1,568.93 505.8,568.82 506.5,569.54 507.2,571.08 507.9,572 508.6,571.41 509.3,571.68 510,571.13 510.7,571.21 511.4,572.33 512.1,573.1 512.8,574.37 513.5,575.54 514.2,576.16 514.9,577.05 515.6,576.59 516.3,576.14 517,577.12 517.7,579.29 518.4,579.31 519.1,578.56 519.8,579.19 520.5,580.52 521.2,579.96 521.9,580.98 522.6,580.9 523.3,582.23 524,582.92 524.7,583.23 525.4,584.67 526.1,584.24 526.8,584.01 527.5,585.63 528.2,585.12 528.9,586.9 529.6,586.8 530.3,586.33 531,586.87 531.7,587.48 532.4,588.08 533.1,588.41 533.8,589.56 534.5,588.42 535.2,588.99 535.9,589.7 536.6,591.57 537.3,590.62 538,591.23 538.7,591.33 539.4,591.86 540.1,593.15 540.8,593.98 541.5,595.28 542.2,595.11 542.9,595.74 543.6,596.87 544.3,597.61 545,597.56 545.7,598.59 546.4,598.26 547.1,599.84 547.8,600.07 548.5,600.28 549.2,600.84 549.9,601.73 550.6,602.98 551.3,602.9 552,602.94 552.7,603.73 553.4,603.61 554.1,603.3 554.8,604.74 555.5,605.16 556.2,606.46 556.9,606.28 557.6,605.38 558.3,606.79 559,607.79 559.7,609.39 560.4,610 561.1,610.46 561.8,611.11 562.5,611.22 563.2,611.74 563.9,611.51 564.6,612.59 565.3,612.76 566,613.28 566.7,614.39 567.4,615.34 568.1,615.1 568.8,616.71 569.5,616.53 570.2,617.35 570.9,618.1 571.6,618.37 572.3,618.7 573,619.91 573.7,620.38 574.4,620.62 575.1,619.82 575.8,620.08 576.5,621.39 577.2,621.88 577.9,621.8 578.6,622.11 579.3,622.65 580,623.66 580.7,624.31 581.4,625.2 582.1,625.04 582.8,626.02 583.5,626.07 584.2,626.4 584.9,627.77 585.6,627.99 586.3,628.22 587,628.51 587.7,628.8 588.4,630.09 589.1,630.97 589.8,631.38 590.5,631.57 591.2,632.28 591.9,632.38 592.6,632.88 593.3,633.35 594,633.69 594.7,634.43 595.4,634.08 596.1,633.36 596.8,632.71 597.5,636.4" fill="none" stroke="#2a52a6" stroke-width="1.35" stroke-linejoin="round"/>
<polyline points="406.4,523.03 407.1,523.32 407.8,524.14 408.5,524.83 409.2,525.9 409.9,525.53 410.6,526.16 411.3,526.53 412,526.71 412.7,527.26 413.4,528.17 414.1,529.22 414.8,529.74 415.5,531.57 416.2,532.17 416.9,530.57 417.6,533.78 418.3,534.68 419,535.02 419.7,535.73 420.4,536.11 421.1,536.19 421.8,535.46 422.5,535.92 423.2,534.72 423.9,536.85 424.6,536.18 425.3,536.89 426,537.73 426.7,538.61 427.4,538.97 428.1,540.01 428.8,537.4 429.5,539.06 430.2,540.51 430.9,541.52 431.6,544.12 432.3,543.97 433,544.99 433.7,544.36 434.4,546.25 435.1,546.13 435.8,546.09 436.5,549.49 437.2,550.37 437.9,550.51 438.6,550.95 439.3,550.09 440,550.1 440.7,551.5 441.4,550.48 442.1,552.01 442.8,551.5 443.5,552.89 444.2,552.94 444.9,555.31 445.6,556.21 446.3,555.64 447,554.31 447.7,554.5 448.4,555.31 449.1,555.17 449.8,556.2 450.5,557.49 451.2,557.55 451.9,557.4 452.6,558.38 453.3,558.23 454,559.14 454.7,559.42 455.4,561.4 456.1,561.45 456.8,561.19 457.5,562.25 458.2,562.65 458.9,562.97 459.6,564.11 460.3,565.78 461,564.89 461.7,566.28 462.4,567.36 463.1,568.33 463.8,569.95 464.5,569.65 465.2,571.27 465.9,571.9 466.6,572.85 467.3,573.5 468,573.73 468.7,573.88 469.4,574.83 470.1,576.8 470.8,577.38 471.5,577.73 472.2,577.9 472.9,577.4 473.6,578.05 474.3,579.66 475,578.37 475.7,579.28 476.4,580.12 477.1,580.26 477.8,580.86 478.5,581.82 479.2,583.13 479.9,583.44 480.6,584.14 481.3,583.84 482,584.23 482.7,584.21 483.4,584.49 484.1,584.35 484.8,585.27 485.5,586.56 486.2,586.43 486.9,586.85 487.6,587.57 488.3,587.8 489,588.77 489.7,589.1 490.4,588.55 491.1,588.52 491.8,589.9 492.5,590.87 493.2,591.98 493.9,592.28 494.6,592.65 495.3,591.9 496,593.62 496.7,593.34 497.4,594.67 498.1,594.25 498.8,594.52 499.5,595.43 500.2,595.81 500.9,596.07 501.6,597.46 502.3,598.37 503,598.94 503.7,599.02 504.4,598.98 505.1,599.35 505.8,599.71 506.5,600.42 507.2,601.53 507.9,601.79 508.6,601.75 509.3,602.02 510,603.54 510.7,603.94 511.4,604.41 512.1,604.91 512.8,605.58 513.5,605.89 514.2,606.89 514.9,607.45 515.6,605.78 516.3,606.58 517,609.09 517.7,608.26 518.4,608.78 519.1,609.84 519.8,610.02 520.5,611.1 521.2,610.41 521.9,610.19 522.6,610.86 523.3,611.13 524,611.28 524.7,612.5 525.4,613.25 526.1,613.73 526.8,613.97 527.5,614.68 528.2,615.07 528.9,615.14 529.6,616.07 530.3,616.73 531,617.15 531.7,617.91 532.4,617.51 533.1,617.96 533.8,618.19 534.5,619.5 535.2,620 535.9,621.34 536.6,622 537.3,621.52 538,621 538.7,621.7 539.4,621.87 540.1,622.21 540.8,622.1 541.5,623.07 542.2,623.59 542.9,624.19 543.6,624.65 544.3,624.47 545,623.84 545.7,624.63 546.4,625.09 547.1,625.58 547.8,626.8 548.5,627.15 549.2,628.34 549.9,628.54 550.6,629.08 551.3,629.48 552,630.02 552.7,629.49 553.4,630.5 554.1,630.78 554.8,630.58 555.5,631.4 556.2,631.93 556.9,632.86 557.6,633.31 558.3,633.57 559,632.93 559.7,634.29 560.4,635.17 561.1,635.52 561.8,635.75 562.5,636.4 563.2,635.99 563.9,636.63 564.6,636.86 565.3,636.69 566,637.38 566.7,637.95 567.4,639.07 568.1,639.56" fill="none" stroke="#e23a36" stroke-width="1.25" stroke-linejoin="round"/>
<polyline points="406.4,553.92 407.1,554.71 407.8,554.62 408.5,555.54 409.2,555.67 409.9,555.9 410.6,557.66 411.3,557.7 412,557.74 412.7,558.61 413.4,559.64 414.1,559.42 414.8,559.99 415.5,559.15 416.2,559.34 416.9,559.59 417.6,559.14 418.3,558.91 419,558.84 419.7,560.17 420.4,561.2 421.1,561.87 421.8,562.77 422.5,562.31 423.2,563.27 423.9,564.3 424.6,565.54 425.3,565.14 426,565.46 426.7,564.51 427.4,565.37 428.1,564.69 428.8,565.1 429.5,567.7 430.2,566.91 430.9,569.16 431.6,570.39 432.3,570.9 433,572.09 433.7,573.14 434.4,574.45 435.1,574.48 435.8,574.32 436.5,574.42 437.2,574.39 437.9,575.31 438.6,575.49 439.3,577.26 440,576.23 440.7,576.43 441.4,576.86 442.1,576.45 442.8,579.48 443.5,578.2 444.2,579.27 444.9,579.93 445.6,582.18 446.3,580.99 447,582.78 447.7,582.7 448.4,583.3 449.1,583.47 449.8,584.76 450.5,584.42 451.2,585.2 451.9,586.2 452.6,588.08 453.3,586.32 454,588.33 454.7,589.32 455.4,589.08 456.1,589.71 456.8,589.74 457.5,591.52 458.2,591.8 458.9,591.9 459.6,592.19 460.3,592.61 461,593.11 461.7,593.15 462.4,595.45 463.1,594.31 463.8,592.69 464.5,594.36 465.2,595.57 465.9,596.88 466.6,597.51 467.3,598.16 468,599.1 468.7,600.32 469.4,600.34 470.1,600.63 470.8,602.57 471.5,603.03 472.2,602.54 472.9,604.65 473.6,605.13 474.3,604.76 475,604.39 475.7,605.35 476.4,605.43 477.1,605.57 477.8,605.73 478.5,606.57 479.2,608.33 479.9,608.64 480.6,608.3 481.3,609.6 482,610.18 482.7,611.19 483.4,612.2 484.1,612.13 484.8,612.29 485.5,612.62 486.2,612.34 486.9,613.44 487.6,614.71 488.3,614.92 489,614.98 489.7,615.19 490.4,615.18 491.1,615.34 491.8,615.86 492.5,616.09 493.2,616.65 493.9,616.5 494.6,617.71 495.3,618.44 496,618.37 496.7,617.86 497.4,619.03 498.1,620.55 498.8,620.6 499.5,620.95 500.2,621.29 500.9,622.36 501.6,622.31 502.3,623.5 503,623.69 503.7,624.65 504.4,624.93 505.1,625.13 505.8,624.77 506.5,625.16 507.2,625.81 507.9,626.87 508.6,627.47 509.3,627.52 510,628.31 510.7,629.27 511.4,629.44 512.1,629.58 512.8,629.87 513.5,630.84 514.2,631.46 514.9,631.28 515.6,632.01 516.3,632.21 517,632.38 517.7,633.64 518.4,634.38 519.1,634.25 519.8,634.74 520.5,635.43 521.2,635.48 521.9,635.94 522.6,636.77 523.3,636.29 524,637.19 524.7,638.1 525.4,638.72 526.1,638.42 526.8,639.19 527.5,639.3 528.2,640.2 528.9,640.94" fill="none" stroke="#1f8a45" stroke-width="1.25" stroke-linejoin="round"/>
</svg></body></html>
